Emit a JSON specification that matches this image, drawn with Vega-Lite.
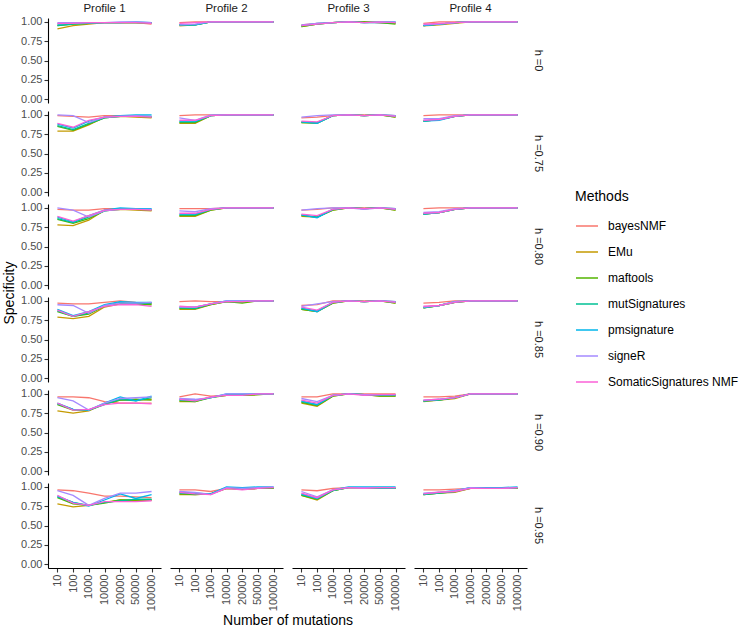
{
"$schema": "https://vega.github.io/schema/vega-lite/v6.json",
"padding": {"left": 2, "top": 2, "right": 2, "bottom": 0},
"background": "white",
"data": {"values": [
{"h":"0","p":1,"m":"bayesNMF","n":10,"y":0.97},{"h":"0","p":1,"m":"bayesNMF","n":100,"y":0.98},{"h":"0","p":1,"m":"bayesNMF","n":1000,"y":0.99},{"h":"0","p":1,"m":"bayesNMF","n":10000,"y":0.99},{"h":"0","p":1,"m":"bayesNMF","n":20000,"y":0.99},{"h":"0","p":1,"m":"bayesNMF","n":50000,"y":0.99},{"h":"0","p":1,"m":"bayesNMF","n":100000,"y":0.97},
{"h":"0","p":1,"m":"EMu","n":10,"y":0.91},{"h":"0","p":1,"m":"EMu","n":100,"y":0.95},{"h":"0","p":1,"m":"EMu","n":1000,"y":0.97},{"h":"0","p":1,"m":"EMu","n":10000,"y":0.99},{"h":"0","p":1,"m":"EMu","n":20000,"y":0.99},{"h":"0","p":1,"m":"EMu","n":50000,"y":0.99},{"h":"0","p":1,"m":"EMu","n":100000,"y":0.98},
{"h":"0","p":1,"m":"maftools","n":10,"y":0.95},{"h":"0","p":1,"m":"maftools","n":100,"y":0.97},{"h":"0","p":1,"m":"maftools","n":1000,"y":0.98},{"h":"0","p":1,"m":"maftools","n":10000,"y":0.99},{"h":"0","p":1,"m":"maftools","n":20000,"y":0.99},{"h":"0","p":1,"m":"maftools","n":50000,"y":0.99},{"h":"0","p":1,"m":"maftools","n":100000,"y":0.99},
{"h":"0","p":1,"m":"mutSignatures","n":10,"y":0.95},{"h":"0","p":1,"m":"mutSignatures","n":100,"y":0.97},{"h":"0","p":1,"m":"mutSignatures","n":1000,"y":0.98},{"h":"0","p":1,"m":"mutSignatures","n":10000,"y":0.99},{"h":"0","p":1,"m":"mutSignatures","n":20000,"y":0.99},{"h":"0","p":1,"m":"mutSignatures","n":50000,"y":0.99},{"h":"0","p":1,"m":"mutSignatures","n":100000,"y":0.99},
{"h":"0","p":1,"m":"pmsignature","n":10,"y":0.97},{"h":"0","p":1,"m":"pmsignature","n":100,"y":0.98},{"h":"0","p":1,"m":"pmsignature","n":1000,"y":0.99},{"h":"0","p":1,"m":"pmsignature","n":10000,"y":0.99},{"h":"0","p":1,"m":"pmsignature","n":20000,"y":0.99},{"h":"0","p":1,"m":"pmsignature","n":50000,"y":1.0},{"h":"0","p":1,"m":"pmsignature","n":100000,"y":0.99},
{"h":"0","p":1,"m":"signeR","n":10,"y":0.99},{"h":"0","p":1,"m":"signeR","n":100,"y":0.99},{"h":"0","p":1,"m":"signeR","n":1000,"y":0.99},{"h":"0","p":1,"m":"signeR","n":10000,"y":0.99},{"h":"0","p":1,"m":"signeR","n":20000,"y":1.0},{"h":"0","p":1,"m":"signeR","n":50000,"y":1.0},{"h":"0","p":1,"m":"signeR","n":100000,"y":0.99},
{"h":"0","p":1,"m":"SomaticSignatures NMF","n":10,"y":0.98},{"h":"0","p":1,"m":"SomaticSignatures NMF","n":100,"y":0.98},{"h":"0","p":1,"m":"SomaticSignatures NMF","n":1000,"y":0.99},{"h":"0","p":1,"m":"SomaticSignatures NMF","n":10000,"y":0.99},{"h":"0","p":1,"m":"SomaticSignatures NMF","n":20000,"y":0.99},{"h":"0","p":1,"m":"SomaticSignatures NMF","n":50000,"y":0.99},{"h":"0","p":1,"m":"SomaticSignatures NMF","n":100000,"y":0.98},

{"h":"0.75","p":1,"m":"bayesNMF","n":10,"y":0.99},{"h":"0.75","p":1,"m":"bayesNMF","n":100,"y":0.98},{"h":"0.75","p":1,"m":"bayesNMF","n":1000,"y":0.97},{"h":"0.75","p":1,"m":"bayesNMF","n":10000,"y":0.99},{"h":"0.75","p":1,"m":"bayesNMF","n":20000,"y":0.99},{"h":"0.75","p":1,"m":"bayesNMF","n":50000,"y":0.98},{"h":"0.75","p":1,"m":"bayesNMF","n":100000,"y":0.97},
{"h":"0.75","p":1,"m":"EMu","n":10,"y":0.79},{"h":"0.75","p":1,"m":"EMu","n":100,"y":0.79},{"h":"0.75","p":1,"m":"EMu","n":1000,"y":0.87},{"h":"0.75","p":1,"m":"EMu","n":10000,"y":0.97},{"h":"0.75","p":1,"m":"EMu","n":20000,"y":0.98},{"h":"0.75","p":1,"m":"EMu","n":50000,"y":0.97},{"h":"0.75","p":1,"m":"EMu","n":100000,"y":0.96},
{"h":"0.75","p":1,"m":"maftools","n":10,"y":0.85},{"h":"0.75","p":1,"m":"maftools","n":100,"y":0.8},{"h":"0.75","p":1,"m":"maftools","n":1000,"y":0.88},{"h":"0.75","p":1,"m":"maftools","n":10000,"y":0.96},{"h":"0.75","p":1,"m":"maftools","n":20000,"y":0.98},{"h":"0.75","p":1,"m":"maftools","n":50000,"y":0.98},{"h":"0.75","p":1,"m":"maftools","n":100000,"y":0.97},
{"h":"0.75","p":1,"m":"mutSignatures","n":10,"y":0.86},{"h":"0.75","p":1,"m":"mutSignatures","n":100,"y":0.81},{"h":"0.75","p":1,"m":"mutSignatures","n":1000,"y":0.89},{"h":"0.75","p":1,"m":"mutSignatures","n":10000,"y":0.96},{"h":"0.75","p":1,"m":"mutSignatures","n":20000,"y":0.98},{"h":"0.75","p":1,"m":"mutSignatures","n":50000,"y":0.99},{"h":"0.75","p":1,"m":"mutSignatures","n":100000,"y":0.98},
{"h":"0.75","p":1,"m":"pmsignature","n":10,"y":0.88},{"h":"0.75","p":1,"m":"pmsignature","n":100,"y":0.83},{"h":"0.75","p":1,"m":"pmsignature","n":1000,"y":0.92},{"h":"0.75","p":1,"m":"pmsignature","n":10000,"y":0.97},{"h":"0.75","p":1,"m":"pmsignature","n":20000,"y":0.99},{"h":"0.75","p":1,"m":"pmsignature","n":50000,"y":1.0},{"h":"0.75","p":1,"m":"pmsignature","n":100000,"y":1.0},
{"h":"0.75","p":1,"m":"signeR","n":10,"y":1.0},{"h":"0.75","p":1,"m":"signeR","n":100,"y":0.99},{"h":"0.75","p":1,"m":"signeR","n":1000,"y":0.9},{"h":"0.75","p":1,"m":"signeR","n":10000,"y":0.97},{"h":"0.75","p":1,"m":"signeR","n":20000,"y":0.98},{"h":"0.75","p":1,"m":"signeR","n":50000,"y":0.99},{"h":"0.75","p":1,"m":"signeR","n":100000,"y":0.98},
{"h":"0.75","p":1,"m":"SomaticSignatures NMF","n":10,"y":0.89},{"h":"0.75","p":1,"m":"SomaticSignatures NMF","n":100,"y":0.84},{"h":"0.75","p":1,"m":"SomaticSignatures NMF","n":1000,"y":0.93},{"h":"0.75","p":1,"m":"SomaticSignatures NMF","n":10000,"y":0.97},{"h":"0.75","p":1,"m":"SomaticSignatures NMF","n":20000,"y":0.98},{"h":"0.75","p":1,"m":"SomaticSignatures NMF","n":50000,"y":0.98},{"h":"0.75","p":1,"m":"SomaticSignatures NMF","n":100000,"y":0.97},

{"h":"0.80","p":1,"m":"bayesNMF","n":10,"y":0.98},{"h":"0.80","p":1,"m":"bayesNMF","n":100,"y":0.97},{"h":"0.80","p":1,"m":"bayesNMF","n":1000,"y":0.97},{"h":"0.80","p":1,"m":"bayesNMF","n":10000,"y":0.99},{"h":"0.80","p":1,"m":"bayesNMF","n":20000,"y":0.99},{"h":"0.80","p":1,"m":"bayesNMF","n":50000,"y":0.98},{"h":"0.80","p":1,"m":"bayesNMF","n":100000,"y":0.97},
{"h":"0.80","p":1,"m":"EMu","n":10,"y":0.78},{"h":"0.80","p":1,"m":"EMu","n":100,"y":0.77},{"h":"0.80","p":1,"m":"EMu","n":1000,"y":0.84},{"h":"0.80","p":1,"m":"EMu","n":10000,"y":0.97},{"h":"0.80","p":1,"m":"EMu","n":20000,"y":0.98},{"h":"0.80","p":1,"m":"EMu","n":50000,"y":0.97},{"h":"0.80","p":1,"m":"EMu","n":100000,"y":0.96},
{"h":"0.80","p":1,"m":"maftools","n":10,"y":0.85},{"h":"0.80","p":1,"m":"maftools","n":100,"y":0.8},{"h":"0.80","p":1,"m":"maftools","n":1000,"y":0.86},{"h":"0.80","p":1,"m":"maftools","n":10000,"y":0.96},{"h":"0.80","p":1,"m":"maftools","n":20000,"y":0.98},{"h":"0.80","p":1,"m":"maftools","n":50000,"y":0.98},{"h":"0.80","p":1,"m":"maftools","n":100000,"y":0.97},
{"h":"0.80","p":1,"m":"mutSignatures","n":10,"y":0.86},{"h":"0.80","p":1,"m":"mutSignatures","n":100,"y":0.81},{"h":"0.80","p":1,"m":"mutSignatures","n":1000,"y":0.88},{"h":"0.80","p":1,"m":"mutSignatures","n":10000,"y":0.96},{"h":"0.80","p":1,"m":"mutSignatures","n":20000,"y":0.99},{"h":"0.80","p":1,"m":"mutSignatures","n":50000,"y":0.99},{"h":"0.80","p":1,"m":"mutSignatures","n":100000,"y":0.98},
{"h":"0.80","p":1,"m":"pmsignature","n":10,"y":0.88},{"h":"0.80","p":1,"m":"pmsignature","n":100,"y":0.82},{"h":"0.80","p":1,"m":"pmsignature","n":1000,"y":0.9},{"h":"0.80","p":1,"m":"pmsignature","n":10000,"y":0.97},{"h":"0.80","p":1,"m":"pmsignature","n":20000,"y":1.0},{"h":"0.80","p":1,"m":"pmsignature","n":50000,"y":0.99},{"h":"0.80","p":1,"m":"pmsignature","n":100000,"y":0.99},
{"h":"0.80","p":1,"m":"signeR","n":10,"y":1.0},{"h":"0.80","p":1,"m":"signeR","n":100,"y":0.97},{"h":"0.80","p":1,"m":"signeR","n":1000,"y":0.88},{"h":"0.80","p":1,"m":"signeR","n":10000,"y":0.96},{"h":"0.80","p":1,"m":"signeR","n":20000,"y":0.98},{"h":"0.80","p":1,"m":"signeR","n":50000,"y":0.98},{"h":"0.80","p":1,"m":"signeR","n":100000,"y":0.98},
{"h":"0.80","p":1,"m":"SomaticSignatures NMF","n":10,"y":0.89},{"h":"0.80","p":1,"m":"SomaticSignatures NMF","n":100,"y":0.83},{"h":"0.80","p":1,"m":"SomaticSignatures NMF","n":1000,"y":0.9},{"h":"0.80","p":1,"m":"SomaticSignatures NMF","n":10000,"y":0.97},{"h":"0.80","p":1,"m":"SomaticSignatures NMF","n":20000,"y":0.98},{"h":"0.80","p":1,"m":"SomaticSignatures NMF","n":50000,"y":0.98},{"h":"0.80","p":1,"m":"SomaticSignatures NMF","n":100000,"y":0.97},

{"h":"0.85","p":1,"m":"bayesNMF","n":10,"y":0.97},{"h":"0.85","p":1,"m":"bayesNMF","n":100,"y":0.96},{"h":"0.85","p":1,"m":"bayesNMF","n":1000,"y":0.96},{"h":"0.85","p":1,"m":"bayesNMF","n":10000,"y":0.98},{"h":"0.85","p":1,"m":"bayesNMF","n":20000,"y":1.0},{"h":"0.85","p":1,"m":"bayesNMF","n":50000,"y":0.98},{"h":"0.85","p":1,"m":"bayesNMF","n":100000,"y":0.97},
{"h":"0.85","p":1,"m":"EMu","n":10,"y":0.79},{"h":"0.85","p":1,"m":"EMu","n":100,"y":0.77},{"h":"0.85","p":1,"m":"EMu","n":1000,"y":0.8},{"h":"0.85","p":1,"m":"EMu","n":10000,"y":0.92},{"h":"0.85","p":1,"m":"EMu","n":20000,"y":0.96},{"h":"0.85","p":1,"m":"EMu","n":50000,"y":0.96},{"h":"0.85","p":1,"m":"EMu","n":100000,"y":0.96},
{"h":"0.85","p":1,"m":"maftools","n":10,"y":0.86},{"h":"0.85","p":1,"m":"maftools","n":100,"y":0.8},{"h":"0.85","p":1,"m":"maftools","n":1000,"y":0.83},{"h":"0.85","p":1,"m":"maftools","n":10000,"y":0.93},{"h":"0.85","p":1,"m":"maftools","n":20000,"y":0.97},{"h":"0.85","p":1,"m":"maftools","n":50000,"y":0.96},{"h":"0.85","p":1,"m":"maftools","n":100000,"y":0.95},
{"h":"0.85","p":1,"m":"mutSignatures","n":10,"y":0.87},{"h":"0.85","p":1,"m":"mutSignatures","n":100,"y":0.8},{"h":"0.85","p":1,"m":"mutSignatures","n":1000,"y":0.84},{"h":"0.85","p":1,"m":"mutSignatures","n":10000,"y":0.94},{"h":"0.85","p":1,"m":"mutSignatures","n":20000,"y":0.98},{"h":"0.85","p":1,"m":"mutSignatures","n":50000,"y":0.96},{"h":"0.85","p":1,"m":"mutSignatures","n":100000,"y":0.97},
{"h":"0.85","p":1,"m":"pmsignature","n":10,"y":0.89},{"h":"0.85","p":1,"m":"pmsignature","n":100,"y":0.81},{"h":"0.85","p":1,"m":"pmsignature","n":1000,"y":0.86},{"h":"0.85","p":1,"m":"pmsignature","n":10000,"y":0.95},{"h":"0.85","p":1,"m":"pmsignature","n":20000,"y":0.99},{"h":"0.85","p":1,"m":"pmsignature","n":50000,"y":0.98},{"h":"0.85","p":1,"m":"pmsignature","n":100000,"y":0.98},
{"h":"0.85","p":1,"m":"signeR","n":10,"y":0.95},{"h":"0.85","p":1,"m":"signeR","n":100,"y":0.94},{"h":"0.85","p":1,"m":"signeR","n":1000,"y":0.84},{"h":"0.85","p":1,"m":"signeR","n":10000,"y":0.94},{"h":"0.85","p":1,"m":"signeR","n":20000,"y":0.97},{"h":"0.85","p":1,"m":"signeR","n":50000,"y":0.97},{"h":"0.85","p":1,"m":"signeR","n":100000,"y":0.98},
{"h":"0.85","p":1,"m":"SomaticSignatures NMF","n":10,"y":0.88},{"h":"0.85","p":1,"m":"SomaticSignatures NMF","n":100,"y":0.8},{"h":"0.85","p":1,"m":"SomaticSignatures NMF","n":1000,"y":0.86},{"h":"0.85","p":1,"m":"SomaticSignatures NMF","n":10000,"y":0.93},{"h":"0.85","p":1,"m":"SomaticSignatures NMF","n":20000,"y":0.95},{"h":"0.85","p":1,"m":"SomaticSignatures NMF","n":50000,"y":0.95},{"h":"0.85","p":1,"m":"SomaticSignatures NMF","n":100000,"y":0.93},

{"h":"0.90","p":1,"m":"bayesNMF","n":10,"y":0.96},{"h":"0.90","p":1,"m":"bayesNMF","n":100,"y":0.96},{"h":"0.90","p":1,"m":"bayesNMF","n":1000,"y":0.95},{"h":"0.90","p":1,"m":"bayesNMF","n":10000,"y":0.9},{"h":"0.90","p":1,"m":"bayesNMF","n":20000,"y":0.88},{"h":"0.90","p":1,"m":"bayesNMF","n":50000,"y":0.88},{"h":"0.90","p":1,"m":"bayesNMF","n":100000,"y":0.88},
{"h":"0.90","p":1,"m":"EMu","n":10,"y":0.78},{"h":"0.90","p":1,"m":"EMu","n":100,"y":0.75},{"h":"0.90","p":1,"m":"EMu","n":1000,"y":0.78},{"h":"0.90","p":1,"m":"EMu","n":10000,"y":0.87},{"h":"0.90","p":1,"m":"EMu","n":20000,"y":0.92},{"h":"0.90","p":1,"m":"EMu","n":50000,"y":0.92},{"h":"0.90","p":1,"m":"EMu","n":100000,"y":0.93},
{"h":"0.90","p":1,"m":"maftools","n":10,"y":0.86},{"h":"0.90","p":1,"m":"maftools","n":100,"y":0.79},{"h":"0.90","p":1,"m":"maftools","n":1000,"y":0.79},{"h":"0.90","p":1,"m":"maftools","n":10000,"y":0.87},{"h":"0.90","p":1,"m":"maftools","n":20000,"y":0.92},{"h":"0.90","p":1,"m":"maftools","n":50000,"y":0.93},{"h":"0.90","p":1,"m":"maftools","n":100000,"y":0.92},
{"h":"0.90","p":1,"m":"mutSignatures","n":10,"y":0.87},{"h":"0.90","p":1,"m":"mutSignatures","n":100,"y":0.8},{"h":"0.90","p":1,"m":"mutSignatures","n":1000,"y":0.79},{"h":"0.90","p":1,"m":"mutSignatures","n":10000,"y":0.86},{"h":"0.90","p":1,"m":"mutSignatures","n":20000,"y":0.93},{"h":"0.90","p":1,"m":"mutSignatures","n":50000,"y":0.91},{"h":"0.90","p":1,"m":"mutSignatures","n":100000,"y":0.95},
{"h":"0.90","p":1,"m":"pmsignature","n":10,"y":0.88},{"h":"0.90","p":1,"m":"pmsignature","n":100,"y":0.8},{"h":"0.90","p":1,"m":"pmsignature","n":1000,"y":0.79},{"h":"0.90","p":1,"m":"pmsignature","n":10000,"y":0.88},{"h":"0.90","p":1,"m":"pmsignature","n":20000,"y":0.96},{"h":"0.90","p":1,"m":"pmsignature","n":50000,"y":0.91},{"h":"0.90","p":1,"m":"pmsignature","n":100000,"y":0.97},
{"h":"0.90","p":1,"m":"signeR","n":10,"y":0.95},{"h":"0.90","p":1,"m":"signeR","n":100,"y":0.91},{"h":"0.90","p":1,"m":"signeR","n":1000,"y":0.79},{"h":"0.90","p":1,"m":"signeR","n":10000,"y":0.88},{"h":"0.90","p":1,"m":"signeR","n":20000,"y":0.94},{"h":"0.90","p":1,"m":"signeR","n":50000,"y":0.95},{"h":"0.90","p":1,"m":"signeR","n":100000,"y":0.96},
{"h":"0.90","p":1,"m":"SomaticSignatures NMF","n":10,"y":0.88},{"h":"0.90","p":1,"m":"SomaticSignatures NMF","n":100,"y":0.79},{"h":"0.90","p":1,"m":"SomaticSignatures NMF","n":1000,"y":0.8},{"h":"0.90","p":1,"m":"SomaticSignatures NMF","n":10000,"y":0.86},{"h":"0.90","p":1,"m":"SomaticSignatures NMF","n":20000,"y":0.88},{"h":"0.90","p":1,"m":"SomaticSignatures NMF","n":50000,"y":0.88},{"h":"0.90","p":1,"m":"SomaticSignatures NMF","n":100000,"y":0.87},

{"h":"0.95","p":1,"m":"bayesNMF","n":10,"y":0.96},{"h":"0.95","p":1,"m":"bayesNMF","n":100,"y":0.95},{"h":"0.95","p":1,"m":"bayesNMF","n":1000,"y":0.92},{"h":"0.95","p":1,"m":"bayesNMF","n":10000,"y":0.88},{"h":"0.95","p":1,"m":"bayesNMF","n":20000,"y":0.88},{"h":"0.95","p":1,"m":"bayesNMF","n":50000,"y":0.87},{"h":"0.95","p":1,"m":"bayesNMF","n":100000,"y":0.86},
{"h":"0.95","p":1,"m":"EMu","n":10,"y":0.78},{"h":"0.95","p":1,"m":"EMu","n":100,"y":0.74},{"h":"0.95","p":1,"m":"EMu","n":1000,"y":0.76},{"h":"0.95","p":1,"m":"EMu","n":10000,"y":0.8},{"h":"0.95","p":1,"m":"EMu","n":20000,"y":0.83},{"h":"0.95","p":1,"m":"EMu","n":50000,"y":0.82},{"h":"0.95","p":1,"m":"EMu","n":100000,"y":0.83},
{"h":"0.95","p":1,"m":"maftools","n":10,"y":0.86},{"h":"0.95","p":1,"m":"maftools","n":100,"y":0.78},{"h":"0.95","p":1,"m":"maftools","n":1000,"y":0.76},{"h":"0.95","p":1,"m":"maftools","n":10000,"y":0.79},{"h":"0.95","p":1,"m":"maftools","n":20000,"y":0.83},{"h":"0.95","p":1,"m":"maftools","n":50000,"y":0.83},{"h":"0.95","p":1,"m":"maftools","n":100000,"y":0.83},
{"h":"0.95","p":1,"m":"mutSignatures","n":10,"y":0.87},{"h":"0.95","p":1,"m":"mutSignatures","n":100,"y":0.8},{"h":"0.95","p":1,"m":"mutSignatures","n":1000,"y":0.76},{"h":"0.95","p":1,"m":"mutSignatures","n":10000,"y":0.8},{"h":"0.95","p":1,"m":"mutSignatures","n":20000,"y":0.82},{"h":"0.95","p":1,"m":"mutSignatures","n":50000,"y":0.84},{"h":"0.95","p":1,"m":"mutSignatures","n":100000,"y":0.84},
{"h":"0.95","p":1,"m":"pmsignature","n":10,"y":0.88},{"h":"0.95","p":1,"m":"pmsignature","n":100,"y":0.8},{"h":"0.95","p":1,"m":"pmsignature","n":1000,"y":0.75},{"h":"0.95","p":1,"m":"pmsignature","n":10000,"y":0.83},{"h":"0.95","p":1,"m":"pmsignature","n":20000,"y":0.91},{"h":"0.95","p":1,"m":"pmsignature","n":50000,"y":0.85},{"h":"0.95","p":1,"m":"pmsignature","n":100000,"y":0.9},
{"h":"0.95","p":1,"m":"signeR","n":10,"y":0.95},{"h":"0.95","p":1,"m":"signeR","n":100,"y":0.89},{"h":"0.95","p":1,"m":"signeR","n":1000,"y":0.76},{"h":"0.95","p":1,"m":"signeR","n":10000,"y":0.85},{"h":"0.95","p":1,"m":"signeR","n":20000,"y":0.92},{"h":"0.95","p":1,"m":"signeR","n":50000,"y":0.92},{"h":"0.95","p":1,"m":"signeR","n":100000,"y":0.94},
{"h":"0.95","p":1,"m":"SomaticSignatures NMF","n":10,"y":0.89},{"h":"0.95","p":1,"m":"SomaticSignatures NMF","n":100,"y":0.79},{"h":"0.95","p":1,"m":"SomaticSignatures NMF","n":1000,"y":0.76},{"h":"0.95","p":1,"m":"SomaticSignatures NMF","n":10000,"y":0.81},{"h":"0.95","p":1,"m":"SomaticSignatures NMF","n":20000,"y":0.81},{"h":"0.95","p":1,"m":"SomaticSignatures NMF","n":50000,"y":0.81},{"h":"0.95","p":1,"m":"SomaticSignatures NMF","n":100000,"y":0.82},

{"h":"0","p":2,"m":"bayesNMF","n":10,"y":0.99},{"h":"0","p":2,"m":"bayesNMF","n":100,"y":1.0},{"h":"0","p":2,"m":"bayesNMF","n":1000,"y":1.0},{"h":"0","p":2,"m":"bayesNMF","n":10000,"y":1.0},{"h":"0","p":2,"m":"bayesNMF","n":20000,"y":1.0},{"h":"0","p":2,"m":"bayesNMF","n":50000,"y":1.0},{"h":"0","p":2,"m":"bayesNMF","n":100000,"y":1.0},
{"h":"0","p":2,"m":"EMu","n":10,"y":0.95},{"h":"0","p":2,"m":"EMu","n":100,"y":0.96},{"h":"0","p":2,"m":"EMu","n":1000,"y":1.0},{"h":"0","p":2,"m":"EMu","n":10000,"y":1.0},{"h":"0","p":2,"m":"EMu","n":20000,"y":1.0},{"h":"0","p":2,"m":"EMu","n":50000,"y":1.0},{"h":"0","p":2,"m":"EMu","n":100000,"y":1.0},
{"h":"0","p":2,"m":"maftools","n":10,"y":0.96},{"h":"0","p":2,"m":"maftools","n":100,"y":0.96},{"h":"0","p":2,"m":"maftools","n":1000,"y":1.0},{"h":"0","p":2,"m":"maftools","n":10000,"y":1.0},{"h":"0","p":2,"m":"maftools","n":20000,"y":1.0},{"h":"0","p":2,"m":"maftools","n":50000,"y":1.0},{"h":"0","p":2,"m":"maftools","n":100000,"y":1.0},
{"h":"0","p":2,"m":"mutSignatures","n":10,"y":0.96},{"h":"0","p":2,"m":"mutSignatures","n":100,"y":0.96},{"h":"0","p":2,"m":"mutSignatures","n":1000,"y":1.0},{"h":"0","p":2,"m":"mutSignatures","n":10000,"y":1.0},{"h":"0","p":2,"m":"mutSignatures","n":20000,"y":1.0},{"h":"0","p":2,"m":"mutSignatures","n":50000,"y":1.0},{"h":"0","p":2,"m":"mutSignatures","n":100000,"y":1.0},
{"h":"0","p":2,"m":"pmsignature","n":10,"y":0.96},{"h":"0","p":2,"m":"pmsignature","n":100,"y":0.96},{"h":"0","p":2,"m":"pmsignature","n":1000,"y":1.0},{"h":"0","p":2,"m":"pmsignature","n":10000,"y":1.0},{"h":"0","p":2,"m":"pmsignature","n":20000,"y":1.0},{"h":"0","p":2,"m":"pmsignature","n":50000,"y":1.0},{"h":"0","p":2,"m":"pmsignature","n":100000,"y":1.0},
{"h":"0","p":2,"m":"signeR","n":10,"y":0.96},{"h":"0","p":2,"m":"signeR","n":100,"y":0.97},{"h":"0","p":2,"m":"signeR","n":1000,"y":1.0},{"h":"0","p":2,"m":"signeR","n":10000,"y":1.0},{"h":"0","p":2,"m":"signeR","n":20000,"y":1.0},{"h":"0","p":2,"m":"signeR","n":50000,"y":1.0},{"h":"0","p":2,"m":"signeR","n":100000,"y":1.0},
{"h":"0","p":2,"m":"SomaticSignatures NMF","n":10,"y":0.98},{"h":"0","p":2,"m":"SomaticSignatures NMF","n":100,"y":0.99},{"h":"0","p":2,"m":"SomaticSignatures NMF","n":1000,"y":1.0},{"h":"0","p":2,"m":"SomaticSignatures NMF","n":10000,"y":1.0},{"h":"0","p":2,"m":"SomaticSignatures NMF","n":20000,"y":1.0},{"h":"0","p":2,"m":"SomaticSignatures NMF","n":50000,"y":1.0},{"h":"0","p":2,"m":"SomaticSignatures NMF","n":100000,"y":1.0},

{"h":"0.75","p":2,"m":"bayesNMF","n":10,"y":0.99},{"h":"0.75","p":2,"m":"bayesNMF","n":100,"y":1.0},{"h":"0.75","p":2,"m":"bayesNMF","n":1000,"y":1.0},{"h":"0.75","p":2,"m":"bayesNMF","n":10000,"y":1.0},{"h":"0.75","p":2,"m":"bayesNMF","n":20000,"y":1.0},{"h":"0.75","p":2,"m":"bayesNMF","n":50000,"y":1.0},{"h":"0.75","p":2,"m":"bayesNMF","n":100000,"y":1.0},
{"h":"0.75","p":2,"m":"EMu","n":10,"y":0.89},{"h":"0.75","p":2,"m":"EMu","n":100,"y":0.89},{"h":"0.75","p":2,"m":"EMu","n":1000,"y":0.99},{"h":"0.75","p":2,"m":"EMu","n":10000,"y":1.0},{"h":"0.75","p":2,"m":"EMu","n":20000,"y":1.0},{"h":"0.75","p":2,"m":"EMu","n":50000,"y":1.0},{"h":"0.75","p":2,"m":"EMu","n":100000,"y":1.0},
{"h":"0.75","p":2,"m":"maftools","n":10,"y":0.9},{"h":"0.75","p":2,"m":"maftools","n":100,"y":0.9},{"h":"0.75","p":2,"m":"maftools","n":1000,"y":0.99},{"h":"0.75","p":2,"m":"maftools","n":10000,"y":1.0},{"h":"0.75","p":2,"m":"maftools","n":20000,"y":1.0},{"h":"0.75","p":2,"m":"maftools","n":50000,"y":1.0},{"h":"0.75","p":2,"m":"maftools","n":100000,"y":1.0},
{"h":"0.75","p":2,"m":"mutSignatures","n":10,"y":0.91},{"h":"0.75","p":2,"m":"mutSignatures","n":100,"y":0.91},{"h":"0.75","p":2,"m":"mutSignatures","n":1000,"y":0.99},{"h":"0.75","p":2,"m":"mutSignatures","n":10000,"y":1.0},{"h":"0.75","p":2,"m":"mutSignatures","n":20000,"y":1.0},{"h":"0.75","p":2,"m":"mutSignatures","n":50000,"y":1.0},{"h":"0.75","p":2,"m":"mutSignatures","n":100000,"y":1.0},
{"h":"0.75","p":2,"m":"pmsignature","n":10,"y":0.92},{"h":"0.75","p":2,"m":"pmsignature","n":100,"y":0.92},{"h":"0.75","p":2,"m":"pmsignature","n":1000,"y":0.99},{"h":"0.75","p":2,"m":"pmsignature","n":10000,"y":1.0},{"h":"0.75","p":2,"m":"pmsignature","n":20000,"y":1.0},{"h":"0.75","p":2,"m":"pmsignature","n":50000,"y":1.0},{"h":"0.75","p":2,"m":"pmsignature","n":100000,"y":1.0},
{"h":"0.75","p":2,"m":"signeR","n":10,"y":0.96},{"h":"0.75","p":2,"m":"signeR","n":100,"y":0.93},{"h":"0.75","p":2,"m":"signeR","n":1000,"y":1.0},{"h":"0.75","p":2,"m":"signeR","n":10000,"y":1.0},{"h":"0.75","p":2,"m":"signeR","n":20000,"y":1.0},{"h":"0.75","p":2,"m":"signeR","n":50000,"y":1.0},{"h":"0.75","p":2,"m":"signeR","n":100000,"y":1.0},
{"h":"0.75","p":2,"m":"SomaticSignatures NMF","n":10,"y":0.93},{"h":"0.75","p":2,"m":"SomaticSignatures NMF","n":100,"y":0.93},{"h":"0.75","p":2,"m":"SomaticSignatures NMF","n":1000,"y":0.99},{"h":"0.75","p":2,"m":"SomaticSignatures NMF","n":10000,"y":1.0},{"h":"0.75","p":2,"m":"SomaticSignatures NMF","n":20000,"y":1.0},{"h":"0.75","p":2,"m":"SomaticSignatures NMF","n":50000,"y":1.0},{"h":"0.75","p":2,"m":"SomaticSignatures NMF","n":100000,"y":1.0},

{"h":"0.80","p":2,"m":"bayesNMF","n":10,"y":0.99},{"h":"0.80","p":2,"m":"bayesNMF","n":100,"y":0.99},{"h":"0.80","p":2,"m":"bayesNMF","n":1000,"y":0.99},{"h":"0.80","p":2,"m":"bayesNMF","n":10000,"y":1.0},{"h":"0.80","p":2,"m":"bayesNMF","n":20000,"y":1.0},{"h":"0.80","p":2,"m":"bayesNMF","n":50000,"y":1.0},{"h":"0.80","p":2,"m":"bayesNMF","n":100000,"y":1.0},
{"h":"0.80","p":2,"m":"EMu","n":10,"y":0.89},{"h":"0.80","p":2,"m":"EMu","n":100,"y":0.89},{"h":"0.80","p":2,"m":"EMu","n":1000,"y":0.97},{"h":"0.80","p":2,"m":"EMu","n":10000,"y":1.0},{"h":"0.80","p":2,"m":"EMu","n":20000,"y":1.0},{"h":"0.80","p":2,"m":"EMu","n":50000,"y":1.0},{"h":"0.80","p":2,"m":"EMu","n":100000,"y":1.0},
{"h":"0.80","p":2,"m":"maftools","n":10,"y":0.9},{"h":"0.80","p":2,"m":"maftools","n":100,"y":0.9},{"h":"0.80","p":2,"m":"maftools","n":1000,"y":0.97},{"h":"0.80","p":2,"m":"maftools","n":10000,"y":1.0},{"h":"0.80","p":2,"m":"maftools","n":20000,"y":1.0},{"h":"0.80","p":2,"m":"maftools","n":50000,"y":1.0},{"h":"0.80","p":2,"m":"maftools","n":100000,"y":1.0},
{"h":"0.80","p":2,"m":"mutSignatures","n":10,"y":0.91},{"h":"0.80","p":2,"m":"mutSignatures","n":100,"y":0.91},{"h":"0.80","p":2,"m":"mutSignatures","n":1000,"y":0.98},{"h":"0.80","p":2,"m":"mutSignatures","n":10000,"y":1.0},{"h":"0.80","p":2,"m":"mutSignatures","n":20000,"y":1.0},{"h":"0.80","p":2,"m":"mutSignatures","n":50000,"y":1.0},{"h":"0.80","p":2,"m":"mutSignatures","n":100000,"y":1.0},
{"h":"0.80","p":2,"m":"pmsignature","n":10,"y":0.92},{"h":"0.80","p":2,"m":"pmsignature","n":100,"y":0.92},{"h":"0.80","p":2,"m":"pmsignature","n":1000,"y":0.98},{"h":"0.80","p":2,"m":"pmsignature","n":10000,"y":1.0},{"h":"0.80","p":2,"m":"pmsignature","n":20000,"y":1.0},{"h":"0.80","p":2,"m":"pmsignature","n":50000,"y":1.0},{"h":"0.80","p":2,"m":"pmsignature","n":100000,"y":1.0},
{"h":"0.80","p":2,"m":"signeR","n":10,"y":0.96},{"h":"0.80","p":2,"m":"signeR","n":100,"y":0.95},{"h":"0.80","p":2,"m":"signeR","n":1000,"y":0.99},{"h":"0.80","p":2,"m":"signeR","n":10000,"y":1.0},{"h":"0.80","p":2,"m":"signeR","n":20000,"y":1.0},{"h":"0.80","p":2,"m":"signeR","n":50000,"y":1.0},{"h":"0.80","p":2,"m":"signeR","n":100000,"y":1.0},
{"h":"0.80","p":2,"m":"SomaticSignatures NMF","n":10,"y":0.93},{"h":"0.80","p":2,"m":"SomaticSignatures NMF","n":100,"y":0.93},{"h":"0.80","p":2,"m":"SomaticSignatures NMF","n":1000,"y":0.98},{"h":"0.80","p":2,"m":"SomaticSignatures NMF","n":10000,"y":1.0},{"h":"0.80","p":2,"m":"SomaticSignatures NMF","n":20000,"y":1.0},{"h":"0.80","p":2,"m":"SomaticSignatures NMF","n":50000,"y":1.0},{"h":"0.80","p":2,"m":"SomaticSignatures NMF","n":100000,"y":1.0},

{"h":"0.85","p":2,"m":"bayesNMF","n":10,"y":0.99},{"h":"0.85","p":2,"m":"bayesNMF","n":100,"y":1.0},{"h":"0.85","p":2,"m":"bayesNMF","n":1000,"y":0.99},{"h":"0.85","p":2,"m":"bayesNMF","n":10000,"y":0.99},{"h":"0.85","p":2,"m":"bayesNMF","n":20000,"y":0.98},{"h":"0.85","p":2,"m":"bayesNMF","n":50000,"y":1.0},{"h":"0.85","p":2,"m":"bayesNMF","n":100000,"y":1.0},
{"h":"0.85","p":2,"m":"EMu","n":10,"y":0.89},{"h":"0.85","p":2,"m":"EMu","n":100,"y":0.89},{"h":"0.85","p":2,"m":"EMu","n":1000,"y":0.95},{"h":"0.85","p":2,"m":"EMu","n":10000,"y":0.99},{"h":"0.85","p":2,"m":"EMu","n":20000,"y":0.99},{"h":"0.85","p":2,"m":"EMu","n":50000,"y":1.0},{"h":"0.85","p":2,"m":"EMu","n":100000,"y":1.0},
{"h":"0.85","p":2,"m":"maftools","n":10,"y":0.9},{"h":"0.85","p":2,"m":"maftools","n":100,"y":0.9},{"h":"0.85","p":2,"m":"maftools","n":1000,"y":0.95},{"h":"0.85","p":2,"m":"maftools","n":10000,"y":0.99},{"h":"0.85","p":2,"m":"maftools","n":20000,"y":0.97},{"h":"0.85","p":2,"m":"maftools","n":50000,"y":1.0},{"h":"0.85","p":2,"m":"maftools","n":100000,"y":1.0},
{"h":"0.85","p":2,"m":"mutSignatures","n":10,"y":0.91},{"h":"0.85","p":2,"m":"mutSignatures","n":100,"y":0.9},{"h":"0.85","p":2,"m":"mutSignatures","n":1000,"y":0.96},{"h":"0.85","p":2,"m":"mutSignatures","n":10000,"y":0.99},{"h":"0.85","p":2,"m":"mutSignatures","n":20000,"y":0.99},{"h":"0.85","p":2,"m":"mutSignatures","n":50000,"y":1.0},{"h":"0.85","p":2,"m":"mutSignatures","n":100000,"y":1.0},
{"h":"0.85","p":2,"m":"pmsignature","n":10,"y":0.92},{"h":"0.85","p":2,"m":"pmsignature","n":100,"y":0.92},{"h":"0.85","p":2,"m":"pmsignature","n":1000,"y":0.96},{"h":"0.85","p":2,"m":"pmsignature","n":10000,"y":1.0},{"h":"0.85","p":2,"m":"pmsignature","n":20000,"y":1.0},{"h":"0.85","p":2,"m":"pmsignature","n":50000,"y":1.0},{"h":"0.85","p":2,"m":"pmsignature","n":100000,"y":1.0},
{"h":"0.85","p":2,"m":"signeR","n":10,"y":0.92},{"h":"0.85","p":2,"m":"signeR","n":100,"y":0.92},{"h":"0.85","p":2,"m":"signeR","n":1000,"y":0.96},{"h":"0.85","p":2,"m":"signeR","n":10000,"y":1.0},{"h":"0.85","p":2,"m":"signeR","n":20000,"y":1.0},{"h":"0.85","p":2,"m":"signeR","n":50000,"y":1.0},{"h":"0.85","p":2,"m":"signeR","n":100000,"y":1.0},
{"h":"0.85","p":2,"m":"SomaticSignatures NMF","n":10,"y":0.93},{"h":"0.85","p":2,"m":"SomaticSignatures NMF","n":100,"y":0.92},{"h":"0.85","p":2,"m":"SomaticSignatures NMF","n":1000,"y":0.96},{"h":"0.85","p":2,"m":"SomaticSignatures NMF","n":10000,"y":0.99},{"h":"0.85","p":2,"m":"SomaticSignatures NMF","n":20000,"y":0.99},{"h":"0.85","p":2,"m":"SomaticSignatures NMF","n":50000,"y":1.0},{"h":"0.85","p":2,"m":"SomaticSignatures NMF","n":100000,"y":1.0},

{"h":"0.90","p":2,"m":"bayesNMF","n":10,"y":0.96},{"h":"0.90","p":2,"m":"bayesNMF","n":100,"y":1.0},{"h":"0.90","p":2,"m":"bayesNMF","n":1000,"y":0.97},{"h":"0.90","p":2,"m":"bayesNMF","n":10000,"y":0.98},{"h":"0.90","p":2,"m":"bayesNMF","n":20000,"y":0.98},{"h":"0.90","p":2,"m":"bayesNMF","n":50000,"y":1.0},{"h":"0.90","p":2,"m":"bayesNMF","n":100000,"y":1.0},
{"h":"0.90","p":2,"m":"EMu","n":10,"y":0.9},{"h":"0.90","p":2,"m":"EMu","n":100,"y":0.9},{"h":"0.90","p":2,"m":"EMu","n":1000,"y":0.96},{"h":"0.90","p":2,"m":"EMu","n":10000,"y":0.98},{"h":"0.90","p":2,"m":"EMu","n":20000,"y":0.98},{"h":"0.90","p":2,"m":"EMu","n":50000,"y":0.99},{"h":"0.90","p":2,"m":"EMu","n":100000,"y":1.0},
{"h":"0.90","p":2,"m":"maftools","n":10,"y":0.91},{"h":"0.90","p":2,"m":"maftools","n":100,"y":0.9},{"h":"0.90","p":2,"m":"maftools","n":1000,"y":0.95},{"h":"0.90","p":2,"m":"maftools","n":10000,"y":0.98},{"h":"0.90","p":2,"m":"maftools","n":20000,"y":0.98},{"h":"0.90","p":2,"m":"maftools","n":50000,"y":0.99},{"h":"0.90","p":2,"m":"maftools","n":100000,"y":1.0},
{"h":"0.90","p":2,"m":"mutSignatures","n":10,"y":0.92},{"h":"0.90","p":2,"m":"mutSignatures","n":100,"y":0.91},{"h":"0.90","p":2,"m":"mutSignatures","n":1000,"y":0.95},{"h":"0.90","p":2,"m":"mutSignatures","n":10000,"y":0.99},{"h":"0.90","p":2,"m":"mutSignatures","n":20000,"y":0.99},{"h":"0.90","p":2,"m":"mutSignatures","n":50000,"y":1.0},{"h":"0.90","p":2,"m":"mutSignatures","n":100000,"y":1.0},
{"h":"0.90","p":2,"m":"pmsignature","n":10,"y":0.93},{"h":"0.90","p":2,"m":"pmsignature","n":100,"y":0.92},{"h":"0.90","p":2,"m":"pmsignature","n":1000,"y":0.95},{"h":"0.90","p":2,"m":"pmsignature","n":10000,"y":1.0},{"h":"0.90","p":2,"m":"pmsignature","n":20000,"y":1.0},{"h":"0.90","p":2,"m":"pmsignature","n":50000,"y":1.0},{"h":"0.90","p":2,"m":"pmsignature","n":100000,"y":1.0},
{"h":"0.90","p":2,"m":"signeR","n":10,"y":0.94},{"h":"0.90","p":2,"m":"signeR","n":100,"y":0.93},{"h":"0.90","p":2,"m":"signeR","n":1000,"y":0.95},{"h":"0.90","p":2,"m":"signeR","n":10000,"y":1.0},{"h":"0.90","p":2,"m":"signeR","n":20000,"y":1.0},{"h":"0.90","p":2,"m":"signeR","n":50000,"y":1.0},{"h":"0.90","p":2,"m":"signeR","n":100000,"y":1.0},
{"h":"0.90","p":2,"m":"SomaticSignatures NMF","n":10,"y":0.93},{"h":"0.90","p":2,"m":"SomaticSignatures NMF","n":100,"y":0.91},{"h":"0.90","p":2,"m":"SomaticSignatures NMF","n":1000,"y":0.96},{"h":"0.90","p":2,"m":"SomaticSignatures NMF","n":10000,"y":0.98},{"h":"0.90","p":2,"m":"SomaticSignatures NMF","n":20000,"y":0.98},{"h":"0.90","p":2,"m":"SomaticSignatures NMF","n":50000,"y":1.0},{"h":"0.90","p":2,"m":"SomaticSignatures NMF","n":100000,"y":1.0},

{"h":"0.95","p":2,"m":"bayesNMF","n":10,"y":0.96},{"h":"0.95","p":2,"m":"bayesNMF","n":100,"y":0.96},{"h":"0.95","p":2,"m":"bayesNMF","n":1000,"y":0.94},{"h":"0.95","p":2,"m":"bayesNMF","n":10000,"y":0.98},{"h":"0.95","p":2,"m":"bayesNMF","n":20000,"y":0.97},{"h":"0.95","p":2,"m":"bayesNMF","n":50000,"y":0.98},{"h":"0.95","p":2,"m":"bayesNMF","n":100000,"y":0.98},
{"h":"0.95","p":2,"m":"EMu","n":10,"y":0.9},{"h":"0.95","p":2,"m":"EMu","n":100,"y":0.9},{"h":"0.95","p":2,"m":"EMu","n":1000,"y":0.91},{"h":"0.95","p":2,"m":"EMu","n":10000,"y":0.98},{"h":"0.95","p":2,"m":"EMu","n":20000,"y":0.97},{"h":"0.95","p":2,"m":"EMu","n":50000,"y":0.98},{"h":"0.95","p":2,"m":"EMu","n":100000,"y":0.98},
{"h":"0.95","p":2,"m":"maftools","n":10,"y":0.91},{"h":"0.95","p":2,"m":"maftools","n":100,"y":0.9},{"h":"0.95","p":2,"m":"maftools","n":1000,"y":0.91},{"h":"0.95","p":2,"m":"maftools","n":10000,"y":0.98},{"h":"0.95","p":2,"m":"maftools","n":20000,"y":0.97},{"h":"0.95","p":2,"m":"maftools","n":50000,"y":0.98},{"h":"0.95","p":2,"m":"maftools","n":100000,"y":0.98},
{"h":"0.95","p":2,"m":"mutSignatures","n":10,"y":0.92},{"h":"0.95","p":2,"m":"mutSignatures","n":100,"y":0.91},{"h":"0.95","p":2,"m":"mutSignatures","n":1000,"y":0.91},{"h":"0.95","p":2,"m":"mutSignatures","n":10000,"y":0.99},{"h":"0.95","p":2,"m":"mutSignatures","n":20000,"y":0.98},{"h":"0.95","p":2,"m":"mutSignatures","n":50000,"y":0.99},{"h":"0.95","p":2,"m":"mutSignatures","n":100000,"y":0.99},
{"h":"0.95","p":2,"m":"pmsignature","n":10,"y":0.93},{"h":"0.95","p":2,"m":"pmsignature","n":100,"y":0.92},{"h":"0.95","p":2,"m":"pmsignature","n":1000,"y":0.91},{"h":"0.95","p":2,"m":"pmsignature","n":10000,"y":1.0},{"h":"0.95","p":2,"m":"pmsignature","n":20000,"y":0.99},{"h":"0.95","p":2,"m":"pmsignature","n":50000,"y":1.0},{"h":"0.95","p":2,"m":"pmsignature","n":100000,"y":1.0},
{"h":"0.95","p":2,"m":"signeR","n":10,"y":0.94},{"h":"0.95","p":2,"m":"signeR","n":100,"y":0.93},{"h":"0.95","p":2,"m":"signeR","n":1000,"y":0.9},{"h":"0.95","p":2,"m":"signeR","n":10000,"y":0.99},{"h":"0.95","p":2,"m":"signeR","n":20000,"y":0.98},{"h":"0.95","p":2,"m":"signeR","n":50000,"y":0.99},{"h":"0.95","p":2,"m":"signeR","n":100000,"y":1.0},
{"h":"0.95","p":2,"m":"SomaticSignatures NMF","n":10,"y":0.93},{"h":"0.95","p":2,"m":"SomaticSignatures NMF","n":100,"y":0.91},{"h":"0.95","p":2,"m":"SomaticSignatures NMF","n":1000,"y":0.9},{"h":"0.95","p":2,"m":"SomaticSignatures NMF","n":10000,"y":0.98},{"h":"0.95","p":2,"m":"SomaticSignatures NMF","n":20000,"y":0.96},{"h":"0.95","p":2,"m":"SomaticSignatures NMF","n":50000,"y":0.98},{"h":"0.95","p":2,"m":"SomaticSignatures NMF","n":100000,"y":0.99},

{"h":"0","p":3,"m":"bayesNMF","n":10,"y":0.96},{"h":"0","p":3,"m":"bayesNMF","n":100,"y":0.98},{"h":"0","p":3,"m":"bayesNMF","n":1000,"y":0.99},{"h":"0","p":3,"m":"bayesNMF","n":10000,"y":1.0},{"h":"0","p":3,"m":"bayesNMF","n":20000,"y":1.0},{"h":"0","p":3,"m":"bayesNMF","n":50000,"y":0.99},{"h":"0","p":3,"m":"bayesNMF","n":100000,"y":0.99},
{"h":"0","p":3,"m":"EMu","n":10,"y":0.94},{"h":"0","p":3,"m":"EMu","n":100,"y":0.97},{"h":"0","p":3,"m":"EMu","n":1000,"y":0.99},{"h":"0","p":3,"m":"EMu","n":10000,"y":1.0},{"h":"0","p":3,"m":"EMu","n":20000,"y":1.0},{"h":"0","p":3,"m":"EMu","n":50000,"y":0.99},{"h":"0","p":3,"m":"EMu","n":100000,"y":0.98},
{"h":"0","p":3,"m":"maftools","n":10,"y":0.94},{"h":"0","p":3,"m":"maftools","n":100,"y":0.97},{"h":"0","p":3,"m":"maftools","n":1000,"y":0.99},{"h":"0","p":3,"m":"maftools","n":10000,"y":1.0},{"h":"0","p":3,"m":"maftools","n":20000,"y":1.0},{"h":"0","p":3,"m":"maftools","n":50000,"y":0.99},{"h":"0","p":3,"m":"maftools","n":100000,"y":0.97},
{"h":"0","p":3,"m":"mutSignatures","n":10,"y":0.95},{"h":"0","p":3,"m":"mutSignatures","n":100,"y":0.97},{"h":"0","p":3,"m":"mutSignatures","n":1000,"y":0.99},{"h":"0","p":3,"m":"mutSignatures","n":10000,"y":1.0},{"h":"0","p":3,"m":"mutSignatures","n":20000,"y":0.99},{"h":"0","p":3,"m":"mutSignatures","n":50000,"y":0.99},{"h":"0","p":3,"m":"mutSignatures","n":100000,"y":0.99},
{"h":"0","p":3,"m":"pmsignature","n":10,"y":0.95},{"h":"0","p":3,"m":"pmsignature","n":100,"y":0.98},{"h":"0","p":3,"m":"pmsignature","n":1000,"y":0.99},{"h":"0","p":3,"m":"pmsignature","n":10000,"y":1.0},{"h":"0","p":3,"m":"pmsignature","n":20000,"y":0.99},{"h":"0","p":3,"m":"pmsignature","n":50000,"y":1.0},{"h":"0","p":3,"m":"pmsignature","n":100000,"y":1.0},
{"h":"0","p":3,"m":"signeR","n":10,"y":0.96},{"h":"0","p":3,"m":"signeR","n":100,"y":0.98},{"h":"0","p":3,"m":"signeR","n":1000,"y":0.99},{"h":"0","p":3,"m":"signeR","n":10000,"y":1.0},{"h":"0","p":3,"m":"signeR","n":20000,"y":0.99},{"h":"0","p":3,"m":"signeR","n":50000,"y":0.99},{"h":"0","p":3,"m":"signeR","n":100000,"y":1.0},
{"h":"0","p":3,"m":"SomaticSignatures NMF","n":10,"y":0.95},{"h":"0","p":3,"m":"SomaticSignatures NMF","n":100,"y":0.97},{"h":"0","p":3,"m":"SomaticSignatures NMF","n":1000,"y":0.99},{"h":"0","p":3,"m":"SomaticSignatures NMF","n":10000,"y":1.0},{"h":"0","p":3,"m":"SomaticSignatures NMF","n":20000,"y":0.99},{"h":"0","p":3,"m":"SomaticSignatures NMF","n":50000,"y":1.0},{"h":"0","p":3,"m":"SomaticSignatures NMF","n":100000,"y":0.99},

{"h":"0.75","p":3,"m":"bayesNMF","n":10,"y":0.96},{"h":"0.75","p":3,"m":"bayesNMF","n":100,"y":0.97},{"h":"0.75","p":3,"m":"bayesNMF","n":1000,"y":0.99},{"h":"0.75","p":3,"m":"bayesNMF","n":10000,"y":1.0},{"h":"0.75","p":3,"m":"bayesNMF","n":20000,"y":1.0},{"h":"0.75","p":3,"m":"bayesNMF","n":50000,"y":1.0},{"h":"0.75","p":3,"m":"bayesNMF","n":100000,"y":0.99},
{"h":"0.75","p":3,"m":"EMu","n":10,"y":0.9},{"h":"0.75","p":3,"m":"EMu","n":100,"y":0.9},{"h":"0.75","p":3,"m":"EMu","n":1000,"y":0.99},{"h":"0.75","p":3,"m":"EMu","n":10000,"y":1.0},{"h":"0.75","p":3,"m":"EMu","n":20000,"y":0.99},{"h":"0.75","p":3,"m":"EMu","n":50000,"y":1.0},{"h":"0.75","p":3,"m":"EMu","n":100000,"y":0.97},
{"h":"0.75","p":3,"m":"maftools","n":10,"y":0.9},{"h":"0.75","p":3,"m":"maftools","n":100,"y":0.89},{"h":"0.75","p":3,"m":"maftools","n":1000,"y":0.99},{"h":"0.75","p":3,"m":"maftools","n":10000,"y":1.0},{"h":"0.75","p":3,"m":"maftools","n":20000,"y":0.99},{"h":"0.75","p":3,"m":"maftools","n":50000,"y":1.0},{"h":"0.75","p":3,"m":"maftools","n":100000,"y":0.97},
{"h":"0.75","p":3,"m":"mutSignatures","n":10,"y":0.91},{"h":"0.75","p":3,"m":"mutSignatures","n":100,"y":0.9},{"h":"0.75","p":3,"m":"mutSignatures","n":1000,"y":0.99},{"h":"0.75","p":3,"m":"mutSignatures","n":10000,"y":1.0},{"h":"0.75","p":3,"m":"mutSignatures","n":20000,"y":0.99},{"h":"0.75","p":3,"m":"mutSignatures","n":50000,"y":1.0},{"h":"0.75","p":3,"m":"mutSignatures","n":100000,"y":0.98},
{"h":"0.75","p":3,"m":"pmsignature","n":10,"y":0.91},{"h":"0.75","p":3,"m":"pmsignature","n":100,"y":0.89},{"h":"0.75","p":3,"m":"pmsignature","n":1000,"y":0.99},{"h":"0.75","p":3,"m":"pmsignature","n":10000,"y":1.0},{"h":"0.75","p":3,"m":"pmsignature","n":20000,"y":0.99},{"h":"0.75","p":3,"m":"pmsignature","n":50000,"y":1.0},{"h":"0.75","p":3,"m":"pmsignature","n":100000,"y":0.99},
{"h":"0.75","p":3,"m":"signeR","n":10,"y":0.97},{"h":"0.75","p":3,"m":"signeR","n":100,"y":0.99},{"h":"0.75","p":3,"m":"signeR","n":1000,"y":1.0},{"h":"0.75","p":3,"m":"signeR","n":10000,"y":1.0},{"h":"0.75","p":3,"m":"signeR","n":20000,"y":0.99},{"h":"0.75","p":3,"m":"signeR","n":50000,"y":1.0},{"h":"0.75","p":3,"m":"signeR","n":100000,"y":0.99},
{"h":"0.75","p":3,"m":"SomaticSignatures NMF","n":10,"y":0.92},{"h":"0.75","p":3,"m":"SomaticSignatures NMF","n":100,"y":0.91},{"h":"0.75","p":3,"m":"SomaticSignatures NMF","n":1000,"y":0.99},{"h":"0.75","p":3,"m":"SomaticSignatures NMF","n":10000,"y":1.0},{"h":"0.75","p":3,"m":"SomaticSignatures NMF","n":20000,"y":0.99},{"h":"0.75","p":3,"m":"SomaticSignatures NMF","n":50000,"y":1.0},{"h":"0.75","p":3,"m":"SomaticSignatures NMF","n":100000,"y":0.98},

{"h":"0.80","p":3,"m":"bayesNMF","n":10,"y":0.97},{"h":"0.80","p":3,"m":"bayesNMF","n":100,"y":0.98},{"h":"0.80","p":3,"m":"bayesNMF","n":1000,"y":1.0},{"h":"0.80","p":3,"m":"bayesNMF","n":10000,"y":1.0},{"h":"0.80","p":3,"m":"bayesNMF","n":20000,"y":1.0},{"h":"0.80","p":3,"m":"bayesNMF","n":50000,"y":1.0},{"h":"0.80","p":3,"m":"bayesNMF","n":100000,"y":0.99},
{"h":"0.80","p":3,"m":"EMu","n":10,"y":0.89},{"h":"0.80","p":3,"m":"EMu","n":100,"y":0.88},{"h":"0.80","p":3,"m":"EMu","n":1000,"y":0.97},{"h":"0.80","p":3,"m":"EMu","n":10000,"y":1.0},{"h":"0.80","p":3,"m":"EMu","n":20000,"y":0.99},{"h":"0.80","p":3,"m":"EMu","n":50000,"y":1.0},{"h":"0.80","p":3,"m":"EMu","n":100000,"y":0.97},
{"h":"0.80","p":3,"m":"maftools","n":10,"y":0.9},{"h":"0.80","p":3,"m":"maftools","n":100,"y":0.88},{"h":"0.80","p":3,"m":"maftools","n":1000,"y":0.97},{"h":"0.80","p":3,"m":"maftools","n":10000,"y":1.0},{"h":"0.80","p":3,"m":"maftools","n":20000,"y":0.99},{"h":"0.80","p":3,"m":"maftools","n":50000,"y":1.0},{"h":"0.80","p":3,"m":"maftools","n":100000,"y":0.97},
{"h":"0.80","p":3,"m":"mutSignatures","n":10,"y":0.91},{"h":"0.80","p":3,"m":"mutSignatures","n":100,"y":0.88},{"h":"0.80","p":3,"m":"mutSignatures","n":1000,"y":0.98},{"h":"0.80","p":3,"m":"mutSignatures","n":10000,"y":1.0},{"h":"0.80","p":3,"m":"mutSignatures","n":20000,"y":0.99},{"h":"0.80","p":3,"m":"mutSignatures","n":50000,"y":1.0},{"h":"0.80","p":3,"m":"mutSignatures","n":100000,"y":0.98},
{"h":"0.80","p":3,"m":"pmsignature","n":10,"y":0.91},{"h":"0.80","p":3,"m":"pmsignature","n":100,"y":0.87},{"h":"0.80","p":3,"m":"pmsignature","n":1000,"y":0.98},{"h":"0.80","p":3,"m":"pmsignature","n":10000,"y":1.0},{"h":"0.80","p":3,"m":"pmsignature","n":20000,"y":0.99},{"h":"0.80","p":3,"m":"pmsignature","n":50000,"y":1.0},{"h":"0.80","p":3,"m":"pmsignature","n":100000,"y":0.99},
{"h":"0.80","p":3,"m":"signeR","n":10,"y":0.97},{"h":"0.80","p":3,"m":"signeR","n":100,"y":0.99},{"h":"0.80","p":3,"m":"signeR","n":1000,"y":1.0},{"h":"0.80","p":3,"m":"signeR","n":10000,"y":1.0},{"h":"0.80","p":3,"m":"signeR","n":20000,"y":0.98},{"h":"0.80","p":3,"m":"signeR","n":50000,"y":1.0},{"h":"0.80","p":3,"m":"signeR","n":100000,"y":0.99},
{"h":"0.80","p":3,"m":"SomaticSignatures NMF","n":10,"y":0.92},{"h":"0.80","p":3,"m":"SomaticSignatures NMF","n":100,"y":0.9},{"h":"0.80","p":3,"m":"SomaticSignatures NMF","n":1000,"y":0.98},{"h":"0.80","p":3,"m":"SomaticSignatures NMF","n":10000,"y":1.0},{"h":"0.80","p":3,"m":"SomaticSignatures NMF","n":20000,"y":0.99},{"h":"0.80","p":3,"m":"SomaticSignatures NMF","n":50000,"y":1.0},{"h":"0.80","p":3,"m":"SomaticSignatures NMF","n":100000,"y":0.98},

{"h":"0.85","p":3,"m":"bayesNMF","n":10,"y":0.94},{"h":"0.85","p":3,"m":"bayesNMF","n":100,"y":0.95},{"h":"0.85","p":3,"m":"bayesNMF","n":1000,"y":1.0},{"h":"0.85","p":3,"m":"bayesNMF","n":10000,"y":1.0},{"h":"0.85","p":3,"m":"bayesNMF","n":20000,"y":1.0},{"h":"0.85","p":3,"m":"bayesNMF","n":50000,"y":1.0},{"h":"0.85","p":3,"m":"bayesNMF","n":100000,"y":0.99},
{"h":"0.85","p":3,"m":"EMu","n":10,"y":0.89},{"h":"0.85","p":3,"m":"EMu","n":100,"y":0.86},{"h":"0.85","p":3,"m":"EMu","n":1000,"y":0.97},{"h":"0.85","p":3,"m":"EMu","n":10000,"y":1.0},{"h":"0.85","p":3,"m":"EMu","n":20000,"y":0.99},{"h":"0.85","p":3,"m":"EMu","n":50000,"y":1.0},{"h":"0.85","p":3,"m":"EMu","n":100000,"y":0.97},
{"h":"0.85","p":3,"m":"maftools","n":10,"y":0.89},{"h":"0.85","p":3,"m":"maftools","n":100,"y":0.86},{"h":"0.85","p":3,"m":"maftools","n":1000,"y":0.97},{"h":"0.85","p":3,"m":"maftools","n":10000,"y":1.0},{"h":"0.85","p":3,"m":"maftools","n":20000,"y":0.99},{"h":"0.85","p":3,"m":"maftools","n":50000,"y":1.0},{"h":"0.85","p":3,"m":"maftools","n":100000,"y":0.97},
{"h":"0.85","p":3,"m":"mutSignatures","n":10,"y":0.9},{"h":"0.85","p":3,"m":"mutSignatures","n":100,"y":0.87},{"h":"0.85","p":3,"m":"mutSignatures","n":1000,"y":0.98},{"h":"0.85","p":3,"m":"mutSignatures","n":10000,"y":1.0},{"h":"0.85","p":3,"m":"mutSignatures","n":20000,"y":0.99},{"h":"0.85","p":3,"m":"mutSignatures","n":50000,"y":1.0},{"h":"0.85","p":3,"m":"mutSignatures","n":100000,"y":0.98},
{"h":"0.85","p":3,"m":"pmsignature","n":10,"y":0.91},{"h":"0.85","p":3,"m":"pmsignature","n":100,"y":0.86},{"h":"0.85","p":3,"m":"pmsignature","n":1000,"y":0.98},{"h":"0.85","p":3,"m":"pmsignature","n":10000,"y":1.0},{"h":"0.85","p":3,"m":"pmsignature","n":20000,"y":0.99},{"h":"0.85","p":3,"m":"pmsignature","n":50000,"y":1.0},{"h":"0.85","p":3,"m":"pmsignature","n":100000,"y":0.99},
{"h":"0.85","p":3,"m":"signeR","n":10,"y":0.93},{"h":"0.85","p":3,"m":"signeR","n":100,"y":0.96},{"h":"0.85","p":3,"m":"signeR","n":1000,"y":0.99},{"h":"0.85","p":3,"m":"signeR","n":10000,"y":1.0},{"h":"0.85","p":3,"m":"signeR","n":20000,"y":0.99},{"h":"0.85","p":3,"m":"signeR","n":50000,"y":1.0},{"h":"0.85","p":3,"m":"signeR","n":100000,"y":0.99},
{"h":"0.85","p":3,"m":"SomaticSignatures NMF","n":10,"y":0.92},{"h":"0.85","p":3,"m":"SomaticSignatures NMF","n":100,"y":0.88},{"h":"0.85","p":3,"m":"SomaticSignatures NMF","n":1000,"y":0.98},{"h":"0.85","p":3,"m":"SomaticSignatures NMF","n":10000,"y":1.0},{"h":"0.85","p":3,"m":"SomaticSignatures NMF","n":20000,"y":0.99},{"h":"0.85","p":3,"m":"SomaticSignatures NMF","n":50000,"y":1.0},{"h":"0.85","p":3,"m":"SomaticSignatures NMF","n":100000,"y":0.98},

{"h":"0.90","p":3,"m":"bayesNMF","n":10,"y":0.96},{"h":"0.90","p":3,"m":"bayesNMF","n":100,"y":0.96},{"h":"0.90","p":3,"m":"bayesNMF","n":1000,"y":1.0},{"h":"0.90","p":3,"m":"bayesNMF","n":10000,"y":1.0},{"h":"0.90","p":3,"m":"bayesNMF","n":20000,"y":1.0},{"h":"0.90","p":3,"m":"bayesNMF","n":50000,"y":1.0},{"h":"0.90","p":3,"m":"bayesNMF","n":100000,"y":1.0},
{"h":"0.90","p":3,"m":"EMu","n":10,"y":0.88},{"h":"0.90","p":3,"m":"EMu","n":100,"y":0.84},{"h":"0.90","p":3,"m":"EMu","n":1000,"y":0.97},{"h":"0.90","p":3,"m":"EMu","n":10000,"y":1.0},{"h":"0.90","p":3,"m":"EMu","n":20000,"y":0.99},{"h":"0.90","p":3,"m":"EMu","n":50000,"y":0.97},{"h":"0.90","p":3,"m":"EMu","n":100000,"y":0.97},
{"h":"0.90","p":3,"m":"maftools","n":10,"y":0.89},{"h":"0.90","p":3,"m":"maftools","n":100,"y":0.85},{"h":"0.90","p":3,"m":"maftools","n":1000,"y":0.97},{"h":"0.90","p":3,"m":"maftools","n":10000,"y":1.0},{"h":"0.90","p":3,"m":"maftools","n":20000,"y":0.99},{"h":"0.90","p":3,"m":"maftools","n":50000,"y":0.97},{"h":"0.90","p":3,"m":"maftools","n":100000,"y":0.97},
{"h":"0.90","p":3,"m":"mutSignatures","n":10,"y":0.9},{"h":"0.90","p":3,"m":"mutSignatures","n":100,"y":0.86},{"h":"0.90","p":3,"m":"mutSignatures","n":1000,"y":0.98},{"h":"0.90","p":3,"m":"mutSignatures","n":10000,"y":1.0},{"h":"0.90","p":3,"m":"mutSignatures","n":20000,"y":0.99},{"h":"0.90","p":3,"m":"mutSignatures","n":50000,"y":0.98},{"h":"0.90","p":3,"m":"mutSignatures","n":100000,"y":0.98},
{"h":"0.90","p":3,"m":"pmsignature","n":10,"y":0.91},{"h":"0.90","p":3,"m":"pmsignature","n":100,"y":0.86},{"h":"0.90","p":3,"m":"pmsignature","n":1000,"y":0.98},{"h":"0.90","p":3,"m":"pmsignature","n":10000,"y":1.0},{"h":"0.90","p":3,"m":"pmsignature","n":20000,"y":0.99},{"h":"0.90","p":3,"m":"pmsignature","n":50000,"y":0.99},{"h":"0.90","p":3,"m":"pmsignature","n":100000,"y":0.99},
{"h":"0.90","p":3,"m":"signeR","n":10,"y":0.94},{"h":"0.90","p":3,"m":"signeR","n":100,"y":0.9},{"h":"0.90","p":3,"m":"signeR","n":1000,"y":0.98},{"h":"0.90","p":3,"m":"signeR","n":10000,"y":1.0},{"h":"0.90","p":3,"m":"signeR","n":20000,"y":0.99},{"h":"0.90","p":3,"m":"signeR","n":50000,"y":0.99},{"h":"0.90","p":3,"m":"signeR","n":100000,"y":0.99},
{"h":"0.90","p":3,"m":"SomaticSignatures NMF","n":10,"y":0.92},{"h":"0.90","p":3,"m":"SomaticSignatures NMF","n":100,"y":0.88},{"h":"0.90","p":3,"m":"SomaticSignatures NMF","n":1000,"y":0.98},{"h":"0.90","p":3,"m":"SomaticSignatures NMF","n":10000,"y":1.0},{"h":"0.90","p":3,"m":"SomaticSignatures NMF","n":20000,"y":0.98},{"h":"0.90","p":3,"m":"SomaticSignatures NMF","n":50000,"y":0.99},{"h":"0.90","p":3,"m":"SomaticSignatures NMF","n":100000,"y":0.99},

{"h":"0.95","p":3,"m":"bayesNMF","n":10,"y":0.96},{"h":"0.95","p":3,"m":"bayesNMF","n":100,"y":0.95},{"h":"0.95","p":3,"m":"bayesNMF","n":1000,"y":0.98},{"h":"0.95","p":3,"m":"bayesNMF","n":10000,"y":0.99},{"h":"0.95","p":3,"m":"bayesNMF","n":20000,"y":0.99},{"h":"0.95","p":3,"m":"bayesNMF","n":50000,"y":0.99},{"h":"0.95","p":3,"m":"bayesNMF","n":100000,"y":0.99},
{"h":"0.95","p":3,"m":"EMu","n":10,"y":0.89},{"h":"0.95","p":3,"m":"EMu","n":100,"y":0.83},{"h":"0.95","p":3,"m":"EMu","n":1000,"y":0.95},{"h":"0.95","p":3,"m":"EMu","n":10000,"y":0.99},{"h":"0.95","p":3,"m":"EMu","n":20000,"y":0.99},{"h":"0.95","p":3,"m":"EMu","n":50000,"y":0.98},{"h":"0.95","p":3,"m":"EMu","n":100000,"y":0.98},
{"h":"0.95","p":3,"m":"maftools","n":10,"y":0.89},{"h":"0.95","p":3,"m":"maftools","n":100,"y":0.84},{"h":"0.95","p":3,"m":"maftools","n":1000,"y":0.95},{"h":"0.95","p":3,"m":"maftools","n":10000,"y":0.99},{"h":"0.95","p":3,"m":"maftools","n":20000,"y":0.99},{"h":"0.95","p":3,"m":"maftools","n":50000,"y":0.98},{"h":"0.95","p":3,"m":"maftools","n":100000,"y":0.98},
{"h":"0.95","p":3,"m":"mutSignatures","n":10,"y":0.9},{"h":"0.95","p":3,"m":"mutSignatures","n":100,"y":0.85},{"h":"0.95","p":3,"m":"mutSignatures","n":1000,"y":0.95},{"h":"0.95","p":3,"m":"mutSignatures","n":10000,"y":0.99},{"h":"0.95","p":3,"m":"mutSignatures","n":20000,"y":0.99},{"h":"0.95","p":3,"m":"mutSignatures","n":50000,"y":0.98},{"h":"0.95","p":3,"m":"mutSignatures","n":100000,"y":0.98},
{"h":"0.95","p":3,"m":"pmsignature","n":10,"y":0.91},{"h":"0.95","p":3,"m":"pmsignature","n":100,"y":0.85},{"h":"0.95","p":3,"m":"pmsignature","n":1000,"y":0.96},{"h":"0.95","p":3,"m":"pmsignature","n":10000,"y":1.0},{"h":"0.95","p":3,"m":"pmsignature","n":20000,"y":1.0},{"h":"0.95","p":3,"m":"pmsignature","n":50000,"y":1.0},{"h":"0.95","p":3,"m":"pmsignature","n":100000,"y":1.0},
{"h":"0.95","p":3,"m":"signeR","n":10,"y":0.94},{"h":"0.95","p":3,"m":"signeR","n":100,"y":0.87},{"h":"0.95","p":3,"m":"signeR","n":1000,"y":0.96},{"h":"0.95","p":3,"m":"signeR","n":10000,"y":0.99},{"h":"0.95","p":3,"m":"signeR","n":20000,"y":0.99},{"h":"0.95","p":3,"m":"signeR","n":50000,"y":0.99},{"h":"0.95","p":3,"m":"signeR","n":100000,"y":0.99},
{"h":"0.95","p":3,"m":"SomaticSignatures NMF","n":10,"y":0.92},{"h":"0.95","p":3,"m":"SomaticSignatures NMF","n":100,"y":0.86},{"h":"0.95","p":3,"m":"SomaticSignatures NMF","n":1000,"y":0.96},{"h":"0.95","p":3,"m":"SomaticSignatures NMF","n":10000,"y":0.99},{"h":"0.95","p":3,"m":"SomaticSignatures NMF","n":20000,"y":0.98},{"h":"0.95","p":3,"m":"SomaticSignatures NMF","n":50000,"y":0.99},{"h":"0.95","p":3,"m":"SomaticSignatures NMF","n":100000,"y":0.99},

{"h":"0","p":4,"m":"bayesNMF","n":10,"y":0.98},{"h":"0","p":4,"m":"bayesNMF","n":100,"y":1.0},{"h":"0","p":4,"m":"bayesNMF","n":1000,"y":1.0},{"h":"0","p":4,"m":"bayesNMF","n":10000,"y":1.0},{"h":"0","p":4,"m":"bayesNMF","n":20000,"y":1.0},{"h":"0","p":4,"m":"bayesNMF","n":50000,"y":1.0},{"h":"0","p":4,"m":"bayesNMF","n":100000,"y":1.0},
{"h":"0","p":4,"m":"EMu","n":10,"y":0.95},{"h":"0","p":4,"m":"EMu","n":100,"y":0.96},{"h":"0","p":4,"m":"EMu","n":1000,"y":0.98},{"h":"0","p":4,"m":"EMu","n":10000,"y":1.0},{"h":"0","p":4,"m":"EMu","n":20000,"y":1.0},{"h":"0","p":4,"m":"EMu","n":50000,"y":1.0},{"h":"0","p":4,"m":"EMu","n":100000,"y":1.0},
{"h":"0","p":4,"m":"maftools","n":10,"y":0.95},{"h":"0","p":4,"m":"maftools","n":100,"y":0.97},{"h":"0","p":4,"m":"maftools","n":1000,"y":0.99},{"h":"0","p":4,"m":"maftools","n":10000,"y":1.0},{"h":"0","p":4,"m":"maftools","n":20000,"y":1.0},{"h":"0","p":4,"m":"maftools","n":50000,"y":1.0},{"h":"0","p":4,"m":"maftools","n":100000,"y":1.0},
{"h":"0","p":4,"m":"mutSignatures","n":10,"y":0.95},{"h":"0","p":4,"m":"mutSignatures","n":100,"y":0.97},{"h":"0","p":4,"m":"mutSignatures","n":1000,"y":0.99},{"h":"0","p":4,"m":"mutSignatures","n":10000,"y":1.0},{"h":"0","p":4,"m":"mutSignatures","n":20000,"y":1.0},{"h":"0","p":4,"m":"mutSignatures","n":50000,"y":1.0},{"h":"0","p":4,"m":"mutSignatures","n":100000,"y":1.0},
{"h":"0","p":4,"m":"pmsignature","n":10,"y":0.95},{"h":"0","p":4,"m":"pmsignature","n":100,"y":0.97},{"h":"0","p":4,"m":"pmsignature","n":1000,"y":0.99},{"h":"0","p":4,"m":"pmsignature","n":10000,"y":1.0},{"h":"0","p":4,"m":"pmsignature","n":20000,"y":1.0},{"h":"0","p":4,"m":"pmsignature","n":50000,"y":1.0},{"h":"0","p":4,"m":"pmsignature","n":100000,"y":1.0},
{"h":"0","p":4,"m":"signeR","n":10,"y":0.96},{"h":"0","p":4,"m":"signeR","n":100,"y":0.97},{"h":"0","p":4,"m":"signeR","n":1000,"y":0.99},{"h":"0","p":4,"m":"signeR","n":10000,"y":1.0},{"h":"0","p":4,"m":"signeR","n":20000,"y":1.0},{"h":"0","p":4,"m":"signeR","n":50000,"y":1.0},{"h":"0","p":4,"m":"signeR","n":100000,"y":1.0},
{"h":"0","p":4,"m":"SomaticSignatures NMF","n":10,"y":0.97},{"h":"0","p":4,"m":"SomaticSignatures NMF","n":100,"y":0.98},{"h":"0","p":4,"m":"SomaticSignatures NMF","n":1000,"y":0.99},{"h":"0","p":4,"m":"SomaticSignatures NMF","n":10000,"y":1.0},{"h":"0","p":4,"m":"SomaticSignatures NMF","n":20000,"y":1.0},{"h":"0","p":4,"m":"SomaticSignatures NMF","n":50000,"y":1.0},{"h":"0","p":4,"m":"SomaticSignatures NMF","n":100000,"y":1.0},

{"h":"0.75","p":4,"m":"bayesNMF","n":10,"y":0.99},{"h":"0.75","p":4,"m":"bayesNMF","n":100,"y":1.0},{"h":"0.75","p":4,"m":"bayesNMF","n":1000,"y":1.0},{"h":"0.75","p":4,"m":"bayesNMF","n":10000,"y":1.0},{"h":"0.75","p":4,"m":"bayesNMF","n":20000,"y":1.0},{"h":"0.75","p":4,"m":"bayesNMF","n":50000,"y":1.0},{"h":"0.75","p":4,"m":"bayesNMF","n":100000,"y":1.0},
{"h":"0.75","p":4,"m":"EMu","n":10,"y":0.92},{"h":"0.75","p":4,"m":"EMu","n":100,"y":0.94},{"h":"0.75","p":4,"m":"EMu","n":1000,"y":0.98},{"h":"0.75","p":4,"m":"EMu","n":10000,"y":1.0},{"h":"0.75","p":4,"m":"EMu","n":20000,"y":1.0},{"h":"0.75","p":4,"m":"EMu","n":50000,"y":1.0},{"h":"0.75","p":4,"m":"EMu","n":100000,"y":1.0},
{"h":"0.75","p":4,"m":"maftools","n":10,"y":0.92},{"h":"0.75","p":4,"m":"maftools","n":100,"y":0.94},{"h":"0.75","p":4,"m":"maftools","n":1000,"y":0.98},{"h":"0.75","p":4,"m":"maftools","n":10000,"y":1.0},{"h":"0.75","p":4,"m":"maftools","n":20000,"y":1.0},{"h":"0.75","p":4,"m":"maftools","n":50000,"y":1.0},{"h":"0.75","p":4,"m":"maftools","n":100000,"y":1.0},
{"h":"0.75","p":4,"m":"mutSignatures","n":10,"y":0.92},{"h":"0.75","p":4,"m":"mutSignatures","n":100,"y":0.94},{"h":"0.75","p":4,"m":"mutSignatures","n":1000,"y":0.98},{"h":"0.75","p":4,"m":"mutSignatures","n":10000,"y":1.0},{"h":"0.75","p":4,"m":"mutSignatures","n":20000,"y":1.0},{"h":"0.75","p":4,"m":"mutSignatures","n":50000,"y":1.0},{"h":"0.75","p":4,"m":"mutSignatures","n":100000,"y":1.0},
{"h":"0.75","p":4,"m":"pmsignature","n":10,"y":0.92},{"h":"0.75","p":4,"m":"pmsignature","n":100,"y":0.93},{"h":"0.75","p":4,"m":"pmsignature","n":1000,"y":0.98},{"h":"0.75","p":4,"m":"pmsignature","n":10000,"y":1.0},{"h":"0.75","p":4,"m":"pmsignature","n":20000,"y":1.0},{"h":"0.75","p":4,"m":"pmsignature","n":50000,"y":1.0},{"h":"0.75","p":4,"m":"pmsignature","n":100000,"y":1.0},
{"h":"0.75","p":4,"m":"signeR","n":10,"y":0.95},{"h":"0.75","p":4,"m":"signeR","n":100,"y":0.95},{"h":"0.75","p":4,"m":"signeR","n":1000,"y":0.99},{"h":"0.75","p":4,"m":"signeR","n":10000,"y":1.0},{"h":"0.75","p":4,"m":"signeR","n":20000,"y":1.0},{"h":"0.75","p":4,"m":"signeR","n":50000,"y":1.0},{"h":"0.75","p":4,"m":"signeR","n":100000,"y":1.0},
{"h":"0.75","p":4,"m":"SomaticSignatures NMF","n":10,"y":0.93},{"h":"0.75","p":4,"m":"SomaticSignatures NMF","n":100,"y":0.94},{"h":"0.75","p":4,"m":"SomaticSignatures NMF","n":1000,"y":0.98},{"h":"0.75","p":4,"m":"SomaticSignatures NMF","n":10000,"y":1.0},{"h":"0.75","p":4,"m":"SomaticSignatures NMF","n":20000,"y":1.0},{"h":"0.75","p":4,"m":"SomaticSignatures NMF","n":50000,"y":1.0},{"h":"0.75","p":4,"m":"SomaticSignatures NMF","n":100000,"y":1.0},

{"h":"0.80","p":4,"m":"bayesNMF","n":10,"y":0.99},{"h":"0.80","p":4,"m":"bayesNMF","n":100,"y":1.0},{"h":"0.80","p":4,"m":"bayesNMF","n":1000,"y":1.0},{"h":"0.80","p":4,"m":"bayesNMF","n":10000,"y":1.0},{"h":"0.80","p":4,"m":"bayesNMF","n":20000,"y":1.0},{"h":"0.80","p":4,"m":"bayesNMF","n":50000,"y":1.0},{"h":"0.80","p":4,"m":"bayesNMF","n":100000,"y":1.0},
{"h":"0.80","p":4,"m":"EMu","n":10,"y":0.92},{"h":"0.80","p":4,"m":"EMu","n":100,"y":0.94},{"h":"0.80","p":4,"m":"EMu","n":1000,"y":0.98},{"h":"0.80","p":4,"m":"EMu","n":10000,"y":1.0},{"h":"0.80","p":4,"m":"EMu","n":20000,"y":1.0},{"h":"0.80","p":4,"m":"EMu","n":50000,"y":1.0},{"h":"0.80","p":4,"m":"EMu","n":100000,"y":1.0},
{"h":"0.80","p":4,"m":"maftools","n":10,"y":0.92},{"h":"0.80","p":4,"m":"maftools","n":100,"y":0.94},{"h":"0.80","p":4,"m":"maftools","n":1000,"y":0.98},{"h":"0.80","p":4,"m":"maftools","n":10000,"y":1.0},{"h":"0.80","p":4,"m":"maftools","n":20000,"y":1.0},{"h":"0.80","p":4,"m":"maftools","n":50000,"y":1.0},{"h":"0.80","p":4,"m":"maftools","n":100000,"y":1.0},
{"h":"0.80","p":4,"m":"mutSignatures","n":10,"y":0.92},{"h":"0.80","p":4,"m":"mutSignatures","n":100,"y":0.94},{"h":"0.80","p":4,"m":"mutSignatures","n":1000,"y":0.98},{"h":"0.80","p":4,"m":"mutSignatures","n":10000,"y":1.0},{"h":"0.80","p":4,"m":"mutSignatures","n":20000,"y":1.0},{"h":"0.80","p":4,"m":"mutSignatures","n":50000,"y":1.0},{"h":"0.80","p":4,"m":"mutSignatures","n":100000,"y":1.0},
{"h":"0.80","p":4,"m":"pmsignature","n":10,"y":0.92},{"h":"0.80","p":4,"m":"pmsignature","n":100,"y":0.94},{"h":"0.80","p":4,"m":"pmsignature","n":1000,"y":0.98},{"h":"0.80","p":4,"m":"pmsignature","n":10000,"y":1.0},{"h":"0.80","p":4,"m":"pmsignature","n":20000,"y":1.0},{"h":"0.80","p":4,"m":"pmsignature","n":50000,"y":1.0},{"h":"0.80","p":4,"m":"pmsignature","n":100000,"y":1.0},
{"h":"0.80","p":4,"m":"signeR","n":10,"y":0.94},{"h":"0.80","p":4,"m":"signeR","n":100,"y":0.95},{"h":"0.80","p":4,"m":"signeR","n":1000,"y":0.99},{"h":"0.80","p":4,"m":"signeR","n":10000,"y":1.0},{"h":"0.80","p":4,"m":"signeR","n":20000,"y":1.0},{"h":"0.80","p":4,"m":"signeR","n":50000,"y":1.0},{"h":"0.80","p":4,"m":"signeR","n":100000,"y":1.0},
{"h":"0.80","p":4,"m":"SomaticSignatures NMF","n":10,"y":0.93},{"h":"0.80","p":4,"m":"SomaticSignatures NMF","n":100,"y":0.94},{"h":"0.80","p":4,"m":"SomaticSignatures NMF","n":1000,"y":0.98},{"h":"0.80","p":4,"m":"SomaticSignatures NMF","n":10000,"y":1.0},{"h":"0.80","p":4,"m":"SomaticSignatures NMF","n":20000,"y":1.0},{"h":"0.80","p":4,"m":"SomaticSignatures NMF","n":50000,"y":1.0},{"h":"0.80","p":4,"m":"SomaticSignatures NMF","n":100000,"y":1.0},

{"h":"0.85","p":4,"m":"bayesNMF","n":10,"y":0.97},{"h":"0.85","p":4,"m":"bayesNMF","n":100,"y":0.98},{"h":"0.85","p":4,"m":"bayesNMF","n":1000,"y":1.0},{"h":"0.85","p":4,"m":"bayesNMF","n":10000,"y":1.0},{"h":"0.85","p":4,"m":"bayesNMF","n":20000,"y":1.0},{"h":"0.85","p":4,"m":"bayesNMF","n":50000,"y":1.0},{"h":"0.85","p":4,"m":"bayesNMF","n":100000,"y":1.0},
{"h":"0.85","p":4,"m":"EMu","n":10,"y":0.91},{"h":"0.85","p":4,"m":"EMu","n":100,"y":0.94},{"h":"0.85","p":4,"m":"EMu","n":1000,"y":0.98},{"h":"0.85","p":4,"m":"EMu","n":10000,"y":1.0},{"h":"0.85","p":4,"m":"EMu","n":20000,"y":1.0},{"h":"0.85","p":4,"m":"EMu","n":50000,"y":1.0},{"h":"0.85","p":4,"m":"EMu","n":100000,"y":1.0},
{"h":"0.85","p":4,"m":"maftools","n":10,"y":0.91},{"h":"0.85","p":4,"m":"maftools","n":100,"y":0.94},{"h":"0.85","p":4,"m":"maftools","n":1000,"y":0.98},{"h":"0.85","p":4,"m":"maftools","n":10000,"y":1.0},{"h":"0.85","p":4,"m":"maftools","n":20000,"y":1.0},{"h":"0.85","p":4,"m":"maftools","n":50000,"y":1.0},{"h":"0.85","p":4,"m":"maftools","n":100000,"y":1.0},
{"h":"0.85","p":4,"m":"mutSignatures","n":10,"y":0.91},{"h":"0.85","p":4,"m":"mutSignatures","n":100,"y":0.94},{"h":"0.85","p":4,"m":"mutSignatures","n":1000,"y":0.98},{"h":"0.85","p":4,"m":"mutSignatures","n":10000,"y":1.0},{"h":"0.85","p":4,"m":"mutSignatures","n":20000,"y":1.0},{"h":"0.85","p":4,"m":"mutSignatures","n":50000,"y":1.0},{"h":"0.85","p":4,"m":"mutSignatures","n":100000,"y":1.0},
{"h":"0.85","p":4,"m":"pmsignature","n":10,"y":0.92},{"h":"0.85","p":4,"m":"pmsignature","n":100,"y":0.94},{"h":"0.85","p":4,"m":"pmsignature","n":1000,"y":0.99},{"h":"0.85","p":4,"m":"pmsignature","n":10000,"y":1.0},{"h":"0.85","p":4,"m":"pmsignature","n":20000,"y":1.0},{"h":"0.85","p":4,"m":"pmsignature","n":50000,"y":1.0},{"h":"0.85","p":4,"m":"pmsignature","n":100000,"y":1.0},
{"h":"0.85","p":4,"m":"signeR","n":10,"y":0.92},{"h":"0.85","p":4,"m":"signeR","n":100,"y":0.94},{"h":"0.85","p":4,"m":"signeR","n":1000,"y":0.99},{"h":"0.85","p":4,"m":"signeR","n":10000,"y":1.0},{"h":"0.85","p":4,"m":"signeR","n":20000,"y":1.0},{"h":"0.85","p":4,"m":"signeR","n":50000,"y":1.0},{"h":"0.85","p":4,"m":"signeR","n":100000,"y":1.0},
{"h":"0.85","p":4,"m":"SomaticSignatures NMF","n":10,"y":0.93},{"h":"0.85","p":4,"m":"SomaticSignatures NMF","n":100,"y":0.94},{"h":"0.85","p":4,"m":"SomaticSignatures NMF","n":1000,"y":0.98},{"h":"0.85","p":4,"m":"SomaticSignatures NMF","n":10000,"y":1.0},{"h":"0.85","p":4,"m":"SomaticSignatures NMF","n":20000,"y":1.0},{"h":"0.85","p":4,"m":"SomaticSignatures NMF","n":50000,"y":1.0},{"h":"0.85","p":4,"m":"SomaticSignatures NMF","n":100000,"y":1.0},

{"h":"0.90","p":4,"m":"bayesNMF","n":10,"y":0.96},{"h":"0.90","p":4,"m":"bayesNMF","n":100,"y":0.96},{"h":"0.90","p":4,"m":"bayesNMF","n":1000,"y":0.97},{"h":"0.90","p":4,"m":"bayesNMF","n":10000,"y":1.0},{"h":"0.90","p":4,"m":"bayesNMF","n":20000,"y":1.0},{"h":"0.90","p":4,"m":"bayesNMF","n":50000,"y":1.0},{"h":"0.90","p":4,"m":"bayesNMF","n":100000,"y":1.0},
{"h":"0.90","p":4,"m":"EMu","n":10,"y":0.9},{"h":"0.90","p":4,"m":"EMu","n":100,"y":0.92},{"h":"0.90","p":4,"m":"EMu","n":1000,"y":0.94},{"h":"0.90","p":4,"m":"EMu","n":10000,"y":1.0},{"h":"0.90","p":4,"m":"EMu","n":20000,"y":1.0},{"h":"0.90","p":4,"m":"EMu","n":50000,"y":1.0},{"h":"0.90","p":4,"m":"EMu","n":100000,"y":1.0},
{"h":"0.90","p":4,"m":"maftools","n":10,"y":0.91},{"h":"0.90","p":4,"m":"maftools","n":100,"y":0.92},{"h":"0.90","p":4,"m":"maftools","n":1000,"y":0.95},{"h":"0.90","p":4,"m":"maftools","n":10000,"y":1.0},{"h":"0.90","p":4,"m":"maftools","n":20000,"y":1.0},{"h":"0.90","p":4,"m":"maftools","n":50000,"y":1.0},{"h":"0.90","p":4,"m":"maftools","n":100000,"y":1.0},
{"h":"0.90","p":4,"m":"mutSignatures","n":10,"y":0.91},{"h":"0.90","p":4,"m":"mutSignatures","n":100,"y":0.92},{"h":"0.90","p":4,"m":"mutSignatures","n":1000,"y":0.95},{"h":"0.90","p":4,"m":"mutSignatures","n":10000,"y":1.0},{"h":"0.90","p":4,"m":"mutSignatures","n":20000,"y":1.0},{"h":"0.90","p":4,"m":"mutSignatures","n":50000,"y":1.0},{"h":"0.90","p":4,"m":"mutSignatures","n":100000,"y":1.0},
{"h":"0.90","p":4,"m":"pmsignature","n":10,"y":0.91},{"h":"0.90","p":4,"m":"pmsignature","n":100,"y":0.93},{"h":"0.90","p":4,"m":"pmsignature","n":1000,"y":0.95},{"h":"0.90","p":4,"m":"pmsignature","n":10000,"y":1.0},{"h":"0.90","p":4,"m":"pmsignature","n":20000,"y":1.0},{"h":"0.90","p":4,"m":"pmsignature","n":50000,"y":1.0},{"h":"0.90","p":4,"m":"pmsignature","n":100000,"y":1.0},
{"h":"0.90","p":4,"m":"signeR","n":10,"y":0.92},{"h":"0.90","p":4,"m":"signeR","n":100,"y":0.93},{"h":"0.90","p":4,"m":"signeR","n":1000,"y":0.95},{"h":"0.90","p":4,"m":"signeR","n":10000,"y":1.0},{"h":"0.90","p":4,"m":"signeR","n":20000,"y":1.0},{"h":"0.90","p":4,"m":"signeR","n":50000,"y":1.0},{"h":"0.90","p":4,"m":"signeR","n":100000,"y":1.0},
{"h":"0.90","p":4,"m":"SomaticSignatures NMF","n":10,"y":0.92},{"h":"0.90","p":4,"m":"SomaticSignatures NMF","n":100,"y":0.93},{"h":"0.90","p":4,"m":"SomaticSignatures NMF","n":1000,"y":0.95},{"h":"0.90","p":4,"m":"SomaticSignatures NMF","n":10000,"y":1.0},{"h":"0.90","p":4,"m":"SomaticSignatures NMF","n":20000,"y":1.0},{"h":"0.90","p":4,"m":"SomaticSignatures NMF","n":50000,"y":1.0},{"h":"0.90","p":4,"m":"SomaticSignatures NMF","n":100000,"y":1.0},

{"h":"0.95","p":4,"m":"bayesNMF","n":10,"y":0.96},{"h":"0.95","p":4,"m":"bayesNMF","n":100,"y":0.96},{"h":"0.95","p":4,"m":"bayesNMF","n":1000,"y":0.97},{"h":"0.95","p":4,"m":"bayesNMF","n":10000,"y":0.98},{"h":"0.95","p":4,"m":"bayesNMF","n":20000,"y":0.98},{"h":"0.95","p":4,"m":"bayesNMF","n":50000,"y":0.98},{"h":"0.95","p":4,"m":"bayesNMF","n":100000,"y":0.98},
{"h":"0.95","p":4,"m":"EMu","n":10,"y":0.9},{"h":"0.95","p":4,"m":"EMu","n":100,"y":0.92},{"h":"0.95","p":4,"m":"EMu","n":1000,"y":0.93},{"h":"0.95","p":4,"m":"EMu","n":10000,"y":0.98},{"h":"0.95","p":4,"m":"EMu","n":20000,"y":0.98},{"h":"0.95","p":4,"m":"EMu","n":50000,"y":0.98},{"h":"0.95","p":4,"m":"EMu","n":100000,"y":0.98},
{"h":"0.95","p":4,"m":"maftools","n":10,"y":0.9},{"h":"0.95","p":4,"m":"maftools","n":100,"y":0.92},{"h":"0.95","p":4,"m":"maftools","n":1000,"y":0.94},{"h":"0.95","p":4,"m":"maftools","n":10000,"y":0.98},{"h":"0.95","p":4,"m":"maftools","n":20000,"y":0.98},{"h":"0.95","p":4,"m":"maftools","n":50000,"y":0.98},{"h":"0.95","p":4,"m":"maftools","n":100000,"y":0.98},
{"h":"0.95","p":4,"m":"mutSignatures","n":10,"y":0.9},{"h":"0.95","p":4,"m":"mutSignatures","n":100,"y":0.92},{"h":"0.95","p":4,"m":"mutSignatures","n":1000,"y":0.94},{"h":"0.95","p":4,"m":"mutSignatures","n":10000,"y":0.99},{"h":"0.95","p":4,"m":"mutSignatures","n":20000,"y":0.98},{"h":"0.95","p":4,"m":"mutSignatures","n":50000,"y":0.98},{"h":"0.95","p":4,"m":"mutSignatures","n":100000,"y":0.99},
{"h":"0.95","p":4,"m":"pmsignature","n":10,"y":0.91},{"h":"0.95","p":4,"m":"pmsignature","n":100,"y":0.93},{"h":"0.95","p":4,"m":"pmsignature","n":1000,"y":0.95},{"h":"0.95","p":4,"m":"pmsignature","n":10000,"y":0.99},{"h":"0.95","p":4,"m":"pmsignature","n":20000,"y":0.99},{"h":"0.95","p":4,"m":"pmsignature","n":50000,"y":0.99},{"h":"0.95","p":4,"m":"pmsignature","n":100000,"y":1.0},
{"h":"0.95","p":4,"m":"signeR","n":10,"y":0.92},{"h":"0.95","p":4,"m":"signeR","n":100,"y":0.93},{"h":"0.95","p":4,"m":"signeR","n":1000,"y":0.95},{"h":"0.95","p":4,"m":"signeR","n":10000,"y":0.99},{"h":"0.95","p":4,"m":"signeR","n":20000,"y":0.98},{"h":"0.95","p":4,"m":"signeR","n":50000,"y":0.98},{"h":"0.95","p":4,"m":"signeR","n":100000,"y":0.99},
{"h":"0.95","p":4,"m":"SomaticSignatures NMF","n":10,"y":0.91},{"h":"0.95","p":4,"m":"SomaticSignatures NMF","n":100,"y":0.93},{"h":"0.95","p":4,"m":"SomaticSignatures NMF","n":1000,"y":0.94},{"h":"0.95","p":4,"m":"SomaticSignatures NMF","n":10000,"y":0.98},{"h":"0.95","p":4,"m":"SomaticSignatures NMF","n":20000,"y":0.98},{"h":"0.95","p":4,"m":"SomaticSignatures NMF","n":50000,"y":0.98},{"h":"0.95","p":4,"m":"SomaticSignatures NMF","n":100000,"y":0.99}
]},
"facet": {
  "row": {"field": "h", "type": "ordinal", "title": "Specificity",
    "header": {"labelExpr": "'h =' + datum.value", "labelOrient": "right", "labelAngle": 90, "labelPadding": 6, "labelFont": "Liberation Sans", "labelFontSize": 11, "labelColor": "#1a1a1a",
      "titleOrient": "left", "titleAngle": -90, "titleFont": "Liberation Sans", "titleFontSize": 14, "titleFontWeight": "normal", "titleColor": "#000000", "titlePadding": -21}},
  "column": {"field": "p", "type": "ordinal", "title": "Number of mutations",
    "header": {"labelExpr": "'Profile ' + datum.value", "labelOrient": "top", "labelPadding": 4, "labelFont": "Liberation Sans", "labelFontSize": 11.5, "labelColor": "#1a1a1a",
      "titleOrient": "bottom", "titleFont": "Liberation Sans", "titleFontSize": 14, "titleFontWeight": "normal", "titleColor": "#000000", "titlePadding": -7}}
},
"spacing": {"row": 8, "column": 9},
"spec": {
  "width": 113,
  "height": 85,
  "mark": {"type": "line", "strokeWidth": 1.3},
  "encoding": {
    "x": {"field": "n", "type": "ordinal", "sort": "ascending", "scale": {"type": "point", "padding": 0.6},
      "axis": {"title": null, "labelAngle": 270, "labelAlign": "right", "labelBaseline": "middle"}},
    "y": {"field": "y", "type": "quantitative", "scale": {"domain": [-0.05, 1.05], "nice": false, "zero": false},
      "axis": {"title": null, "values": [0, 0.25, 0.5, 0.75, 1], "format": ".2f"}},
    "color": {"field": "m", "type": "nominal", "title": "Methods",
      "scale": {"domain": ["bayesNMF", "EMu", "maftools", "mutSignatures", "pmsignature", "signeR", "SomaticSignatures NMF"],
                "range": ["#F8766D", "#C49A00", "#53B400", "#00C094", "#00B6EB", "#A58AFF", "#FB61D7"]},
      "legend": {"orient": "none", "legendX": 527, "legendY": 172, "symbolType": "stroke", "symbolSize": 484, "symbolStrokeWidth": 1.5, "rowPadding": 8, "labelOffset": 9}}
  }
},
"config": {
  "font": "Liberation Sans",
  "view": {"stroke": null},
  "axis": {"grid": false, "domainColor": "#000000", "domainWidth": 1.1, "tickColor": "#333333", "tickSize": 4, "tickWidth": 1.1,
    "labelFont": "Liberation Sans", "labelFontSize": 11, "labelColor": "#4d4d4d", "labelPadding": 2,
    "titleFont": "Liberation Sans", "titleFontSize": 14, "titleFontWeight": "normal", "titleColor": "#000000"},
  "legend": {"titleFont": "Liberation Sans", "titleFontSize": 14, "titleFontWeight": "normal", "titleColor": "#000000", "titlePadding": 10,
    "labelFont": "Liberation Sans", "labelFontSize": 12, "labelColor": "#000000"}
}
}
